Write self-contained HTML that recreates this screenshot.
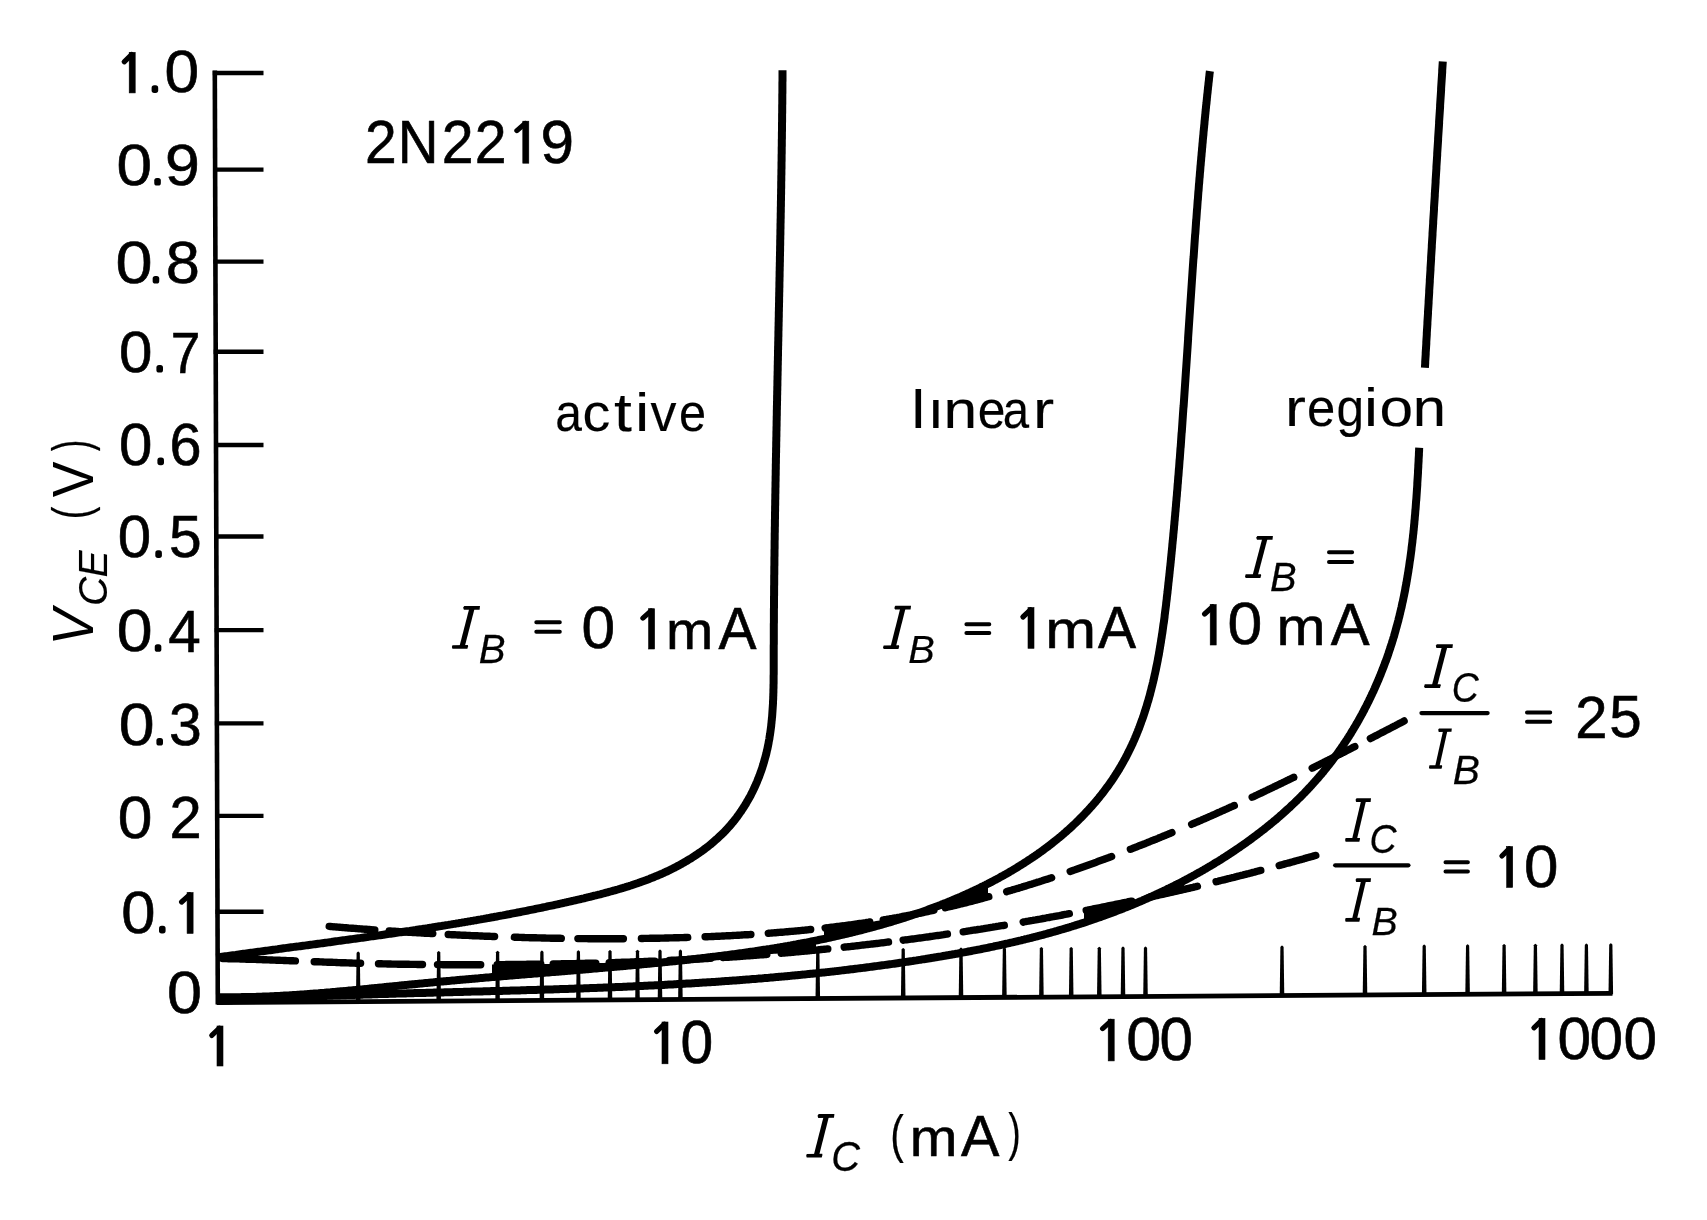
<!DOCTYPE html><html><head><meta charset="utf-8"><style>html,body{margin:0;padding:0;background:#fff;}svg{display:block;}</style></head><body>
<svg width="1707" height="1220" viewBox="0 0 1707 1220" style="filter:grayscale(1)">
<rect width="1707" height="1220" fill="#fff"/>
<g stroke="#000" fill="none" stroke-linecap="butt">
<path d="M214.8,70.5 L217.8,1004.5" stroke-width="4.6"/>
<path d="M217.8,1002.6 L1612.5,993.3" stroke-width="4.8"/>
<path d="M212.8,73.0 L263.5,73.0" stroke-width="4.4"/>
<path d="M213.1,169.6 L263.5,169.6" stroke-width="4.4"/>
<path d="M213.4,261.6 L263.5,261.6" stroke-width="4.4"/>
<path d="M213.7,351.7 L263.5,351.7" stroke-width="4.4"/>
<path d="M214.0,445.0 L263.5,445.0" stroke-width="4.4"/>
<path d="M214.3,536.5 L263.5,536.5" stroke-width="4.4"/>
<path d="M214.6,630.1 L263.5,630.1" stroke-width="4.4"/>
<path d="M214.9,723.4 L263.5,723.4" stroke-width="4.4"/>
<path d="M215.2,815.9 L263.5,815.9" stroke-width="4.4"/>
<path d="M215.5,911.7 L263.5,911.7" stroke-width="4.4"/>
</g><g fill="#000" stroke="none">
<path d="M355.9,1002.6 L356.6,953.1 Q358.2,950.1 359.8,953.1 L360.5,1002.6 Z"/>
<path d="M436.4,1002.1 L437.1,952.6 Q438.7,949.6 440.3,952.6 L441.0,1002.1 Z"/>
<path d="M495.3,1001.7 L496.0,952.2 Q497.6,949.2 499.2,952.2 L499.9,1001.7 Z"/>
<path d="M539.6,1001.4 L540.3,951.9 Q541.9,948.9 543.5,951.9 L544.2,1001.4 Z"/>
<path d="M576.1,1001.2 L576.8,951.7 Q578.4,948.7 580.0,951.7 L580.7,1001.2 Z"/>
<path d="M607.7,1001.0 L608.4,951.5 Q610.0,948.5 611.6,951.5 L612.3,1001.0 Z"/>
<path d="M635.2,1000.8 L635.9,951.3 Q637.5,948.3 639.1,951.3 L639.8,1000.8 Z"/>
<path d="M657.7,1000.6 L658.4,951.1 Q660.0,948.1 661.6,951.1 L662.3,1000.6 Z"/>
<path d="M678.1,1000.5 L678.8,951.0 Q680.4,948.0 682.0,951.0 L682.7,1000.5 Z"/>
<path d="M815.5,999.6 L816.2,950.1 Q817.8,947.1 819.4,950.1 L820.1,999.6 Z"/>
<path d="M900.9,999.0 L901.6,949.5 Q903.2,946.5 904.8,949.5 L905.5,999.0 Z"/>
<path d="M958.7,998.6 L959.4,949.1 Q961.0,946.1 962.6,949.1 L963.3,998.6 Z"/>
<path d="M1002.1,998.3 L1002.8,948.8 Q1004.4,945.8 1006.0,948.8 L1006.7,998.3 Z"/>
<path d="M1039.1,998.1 L1039.8,948.6 Q1041.4,945.6 1043.0,948.6 L1043.7,998.1 Z"/>
<path d="M1068.9,997.9 L1069.6,948.4 Q1071.2,945.4 1072.8,948.4 L1073.5,997.9 Z"/>
<path d="M1097.0,997.7 L1097.7,948.2 Q1099.3,945.2 1100.9,948.2 L1101.6,997.7 Z"/>
<path d="M1120.7,997.6 L1121.4,948.1 Q1123.0,945.1 1124.6,948.1 L1125.3,997.6 Z"/>
<path d="M1143.2,997.4 L1143.9,947.9 Q1145.5,944.9 1147.1,947.9 L1147.8,997.4 Z"/>
<path d="M1279.7,996.5 L1280.4,947.0 Q1282.0,944.0 1283.6,947.0 L1284.3,996.5 Z"/>
<path d="M1362.7,995.9 L1363.4,946.4 Q1365.0,943.4 1366.6,946.4 L1367.3,995.9 Z"/>
<path d="M1421.9,995.6 L1422.6,946.1 Q1424.2,943.1 1425.8,946.1 L1426.5,995.6 Z"/>
<path d="M1465.3,995.3 L1466.0,945.8 Q1467.6,942.8 1469.2,945.8 L1469.9,995.3 Z"/>
<path d="M1501.8,995.0 L1502.5,945.5 Q1504.1,942.5 1505.7,945.5 L1506.4,995.0 Z"/>
<path d="M1533.1,994.8 L1533.8,945.3 Q1535.4,942.3 1537.0,945.3 L1537.7,994.8 Z"/>
<path d="M1559.7,994.6 L1560.4,945.1 Q1562.0,942.1 1563.6,945.1 L1564.3,994.6 Z"/>
<path d="M1584.1,994.5 L1584.8,945.0 Q1586.4,942.0 1588.0,945.0 L1588.7,994.5 Z"/>
<path d="M1608.5,994.3 L1609.2,944.8 Q1610.8,941.8 1612.4,944.8 L1613.1,994.3 Z"/>
</g>
<g stroke="#000" fill="none" stroke-width="8.0" stroke-linecap="butt" stroke-linejoin="round">
<path d="M216.3,957.6 L217.8,957.4 L219.3,957.2 L220.8,957.0 L222.3,956.7 L223.8,956.5 L225.3,956.3 L226.8,956.1 L228.3,955.9 L229.8,955.7 L231.3,955.5 L232.9,955.3 L234.4,955.1 L235.9,954.9 L237.4,954.6 L238.9,954.4 L240.4,954.2 L241.9,954.0 L243.4,953.8 L244.9,953.6 L246.4,953.4 L247.9,953.2 L249.4,953.0 L250.9,952.8 L252.4,952.6 L253.8,952.4 L255.3,952.2 L256.8,952.0 L258.3,951.8 L259.8,951.6 L261.3,951.4 L262.8,951.2 L264.3,951.0 L265.8,950.8 L267.3,950.6 L268.8,950.4 L270.3,950.2 L271.8,950.0 L273.3,949.8 L274.8,949.6 L276.3,949.4 L277.8,949.2 L279.3,948.9 L280.8,948.7 L282.3,948.5 L283.7,948.3 L285.2,948.1 L286.7,947.9 L288.2,947.7 L289.7,947.5 L291.2,947.3 L292.7,947.1 L294.2,946.9 L295.7,946.7 L297.2,946.6 L298.7,946.4 L300.1,946.2 L301.6,946.0 L303.1,945.8 L304.6,945.6 L306.1,945.4 L307.6,945.2 L309.1,945.0 L310.6,944.8 L312.1,944.6 L313.5,944.4 L315.0,944.2 L316.5,944.0 L318.0,943.8 L319.5,943.6 L321.0,943.4 L322.5,943.2 L324.0,943.0 L325.4,942.8 L326.9,942.6 L328.4,942.4 L329.9,942.2 L331.4,942.0 L332.9,941.7 L334.3,941.5 L335.8,941.3 L337.3,941.1 L338.8,940.9 L340.3,940.7 L341.8,940.5 L343.3,940.3 L344.7,940.1 L346.2,939.9 L347.7,939.7 L349.2,939.5 L350.7,939.3 L352.2,939.1 L353.6,938.9 L355.1,938.7 L356.6,938.5 L358.1,938.3 L359.6,938.1 L361.0,937.9 L362.5,937.7 L364.0,937.5 L365.5,937.3 L367.0,937.1 L368.4,936.8 L369.9,936.6 L371.4,936.4 L372.9,936.2 L374.4,936.0 L375.9,935.8 L377.3,935.6 L378.8,935.4 L380.3,935.2 L381.8,935.0 L383.2,934.8 L384.7,934.5 L386.2,934.3 L387.7,934.1 L389.2,933.9 L390.6,933.7 L392.1,933.5 L393.6,933.3 L395.1,933.0 L396.6,932.8 L398.0,932.6 L399.5,932.4 L401.0,932.2 L402.5,932.0 L403.9,931.7 L405.4,931.5 L406.9,931.3 L408.4,931.1 L409.9,930.9 L411.3,930.6 L412.8,930.4 L414.3,930.2 L415.8,930.0 L417.2,929.7 L418.7,929.5 L420.2,929.3 L421.7,929.1 L423.1,928.8 L424.6,928.6 L426.1,928.4 L427.6,928.2 L429.1,927.9 L430.5,927.7 L432.0,927.5 L433.5,927.2 L435.0,927.0 L436.4,926.8 L437.9,926.5 L439.4,926.3 L440.9,926.1 L442.3,925.8 L443.8,925.6 L445.3,925.3 L446.8,925.1 L448.2,924.9 L449.7,924.6 L451.2,924.4 L452.7,924.1 L454.1,923.9 L455.6,923.7 L457.1,923.4 L458.6,923.2 L460.0,922.9 L461.5,922.7 L463.0,922.4 L464.5,922.2 L465.9,921.9 L467.4,921.7 L468.9,921.4 L470.4,921.2 L471.8,920.9 L473.3,920.7 L474.8,920.4 L476.3,920.2 L477.7,919.9 L479.2,919.6 L480.7,919.4 L482.2,919.1 L483.6,918.9 L485.1,918.6 L486.6,918.3 L488.1,918.1 L489.5,917.8 L491.0,917.5 L492.5,917.3 L494.0,917.0 L495.4,916.7 L496.9,916.5 L498.4,916.2 L499.8,915.9 L501.3,915.6 L502.8,915.4 L504.3,915.1 L505.7,914.8 L507.2,914.5 L508.7,914.3 L510.2,914.0 L511.6,913.7 L513.1,913.4 L514.6,913.1 L516.1,912.8 L517.5,912.5 L519.0,912.3 L520.5,912.0 L522.0,911.7 L523.4,911.4 L524.9,911.1 L526.4,910.8 L527.9,910.5 L529.3,910.2 L530.8,909.9 L532.3,909.6 L533.8,909.3 L535.2,909.0 L536.7,908.7 L538.2,908.4 L539.7,908.1 L541.1,907.8 L542.6,907.5 L544.1,907.2 L545.6,906.9 L547.0,906.5 L548.5,906.2 L550.0,905.9 L551.5,905.6 L553.0,905.3 L554.4,905.0 L555.9,904.6 L557.4,904.3 L558.9,904.0 L560.3,903.7 L561.8,903.3 L563.3,903.0 L564.8,902.7 L566.2,902.3 L567.7,902.0 L569.2,901.7 L570.7,901.3 L572.1,901.0 L573.6,900.7 L575.1,900.3 L576.6,900.0 L578.1,899.6 L579.5,899.3 L581.0,899.0 L582.5,898.6 L584.0,898.3 L585.4,897.9 L586.9,897.5 L588.4,897.2 L589.9,896.8 L591.4,896.5 L592.8,896.1 L594.3,895.7 L595.8,895.4 L597.3,895.0 L598.7,894.6 L600.2,894.3 L601.7,893.9 L603.2,893.5 L604.6,893.1 L606.1,892.7 L607.6,892.3 L609.0,891.9 L610.5,891.5 L612.0,891.1 L613.4,890.7 L614.9,890.3 L616.3,889.9 L617.8,889.5 L619.3,889.0 L620.7,888.6 L622.2,888.2 L623.6,887.7 L625.1,887.3 L626.5,886.8 L628.0,886.4 L629.4,885.9 L630.9,885.5 L632.3,885.0 L633.7,884.5 L635.2,884.0 L636.6,883.5 L638.1,883.1 L639.5,882.6 L640.9,882.0 L642.3,881.5 L643.8,881.0 L645.2,880.5 L646.6,880.0 L648.0,879.4 L649.4,878.9 L650.8,878.3 L652.2,877.8 L653.6,877.2 L655.0,876.6 L656.4,876.1 L657.8,875.5 L659.2,874.9 L660.6,874.3 L662.0,873.7 L663.3,873.1 L664.7,872.4 L666.1,871.8 L667.5,871.2 L668.8,870.5 L670.2,869.8 L671.5,869.2 L672.9,868.5 L674.2,867.8 L675.6,867.1 L676.9,866.4 L678.3,865.7 L679.6,865.0 L680.9,864.3 L682.2,863.5 L683.5,862.8 L684.8,862.0 L686.1,861.3 L687.4,860.5 L688.7,859.7 L690.0,858.9 L691.3,858.2 L692.6,857.3 L693.8,856.5 L695.1,855.7 L696.3,854.9 L697.6,854.0 L698.8,853.2 L700.1,852.3 L701.3,851.5 L702.5,850.6 L703.7,849.7 L704.9,848.8 L706.1,847.9 L707.3,847.0 L708.5,846.1 L709.6,845.1 L710.8,844.2 L711.9,843.2 L713.1,842.3 L714.2,841.3 L715.3,840.3 L716.4,839.3 L717.5,838.4 L718.6,837.3 L719.7,836.3 L720.8,835.3 L721.9,834.3 L722.9,833.2 L724.0,832.2 L725.0,831.1 L726.0,830.1 L727.0,829.0 L728.0,827.9 L729.0,826.8 L730.0,825.7 L730.9,824.6 L731.9,823.4 L732.8,822.3 L733.8,821.2 L734.7,820.0 L735.6,818.8 L736.5,817.7 L737.4,816.5 L738.2,815.3 L739.1,814.1 L739.9,812.9 L740.8,811.7 L741.6,810.5 L742.4,809.2 L743.2,808.0 L744.0,806.8 L744.8,805.5 L745.6,804.3 L746.3,803.0 L747.1,801.7 L747.8,800.4 L748.5,799.2 L749.3,797.9 L750.0,796.6 L750.7,795.3 L751.3,794.0 L752.0,792.6 L752.7,791.3 L753.3,790.0 L754.0,788.6 L754.6,787.3 L755.2,786.0 L755.8,784.6 L756.4,783.2 L757.0,781.9 L757.5,780.5 L758.1,779.1 L758.6,777.8 L759.2,776.4 L759.7,775.0 L760.2,773.6 L760.7,772.2 L761.2,770.8 L761.7,769.4 L762.2,768.0 L762.6,766.6 L763.1,765.1 L763.5,763.7 L763.9,762.3 L764.3,760.9 L764.7,759.4 L765.1,758.0 L765.5,756.6 L765.9,755.1 L766.3,753.7 L766.6,752.2 L766.9,750.8 L767.3,749.3 L767.6,747.9 L767.9,746.4 L768.2,744.9 L768.5,743.5 L768.7,742.0 L769.0,740.5 L769.3,739.1 L769.5,737.6 L769.7,736.1 L770.0,734.6 L770.2,733.2 L770.4,731.7 L770.6,730.2 L770.8,728.7 L771.0,727.2 L771.2,725.7 L771.3,724.2 L771.5,722.7 L771.6,721.3 L771.8,719.8 L771.9,718.3 L772.1,716.8 L772.2,715.3 L772.3,713.8 L772.4,712.3 L772.5,710.7 L772.6,709.2 L772.7,707.7 L772.8,706.2 L772.9,704.7 L773.0,703.2 L773.0,701.7 L773.1,700.2 L773.2,698.7 L773.2,697.1 L773.3,695.6 L773.3,694.1 L773.4,692.6 L773.4,691.1 L773.4,689.6 L773.5,688.0 L773.5,686.5 L773.5,685.0 L773.6,683.5 L773.6,681.9 L773.6,680.4 L773.6,678.9 L773.6,677.4 L773.6,675.8 L773.7,674.3 L773.7,672.8 L773.7,671.3 L773.7,669.8 L773.7,668.2 L773.7,666.7 L773.7,665.2 L773.7,663.7 L773.7,662.1 L773.7,660.6 L773.7,659.1 L773.7,657.6 L773.7,656.0 L773.7,654.5 L773.7,653.0 L773.7,651.5 L773.7,649.9 L773.7,648.4 L773.7,646.9 L773.7,645.4 L773.8,643.9 L773.8,642.3 L773.8,640.8 L773.8,639.3 L773.8,637.8 L773.8,636.3 L773.8,634.7 L773.8,633.2 L773.8,631.7 L773.8,630.2 L773.8,628.7 L773.8,627.1 L773.8,625.6 L773.8,624.1 L773.9,622.6 L773.9,621.1 L773.9,619.6 L773.9,618.1 L773.9,616.5 L773.9,615.0 L773.9,613.5 L773.9,612.0 L773.9,610.5 L773.9,609.0 L774.0,607.4 L774.0,605.9 L774.0,604.4 L774.0,602.9 L774.0,601.4 L774.0,599.9 L774.0,598.4 L774.0,596.9 L774.1,595.3 L774.1,593.8 L774.1,592.3 L774.1,590.8 L774.1,589.3 L774.1,587.8 L774.1,586.3 L774.2,584.8 L774.2,583.3 L774.2,581.8 L774.2,580.2 L774.2,578.7 L774.2,577.2 L774.2,575.7 L774.3,574.2 L774.3,572.7 L774.3,571.2 L774.3,569.7 L774.3,568.2 L774.3,566.7 L774.4,565.2 L774.4,563.7 L774.4,562.1 L774.4,560.6 L774.4,559.1 L774.4,557.6 L774.5,556.1 L774.5,554.6 L774.5,553.1 L774.5,551.6 L774.5,550.1 L774.6,548.6 L774.6,547.1 L774.6,545.6 L774.6,544.1 L774.6,542.6 L774.6,541.1 L774.7,539.6 L774.7,538.1 L774.7,536.6 L774.7,535.1 L774.7,533.6 L774.8,532.1 L774.8,530.6 L774.8,529.1 L774.8,527.6 L774.9,526.1 L774.9,524.5 L774.9,523.0 L774.9,521.5 L774.9,520.0 L775.0,518.5 L775.0,517.0 L775.0,515.5 L775.0,514.0 L775.0,512.5 L775.1,511.0 L775.1,509.5 L775.1,508.0 L775.1,506.5 L775.2,505.0 L775.2,503.5 L775.2,502.0 L775.2,500.5 L775.3,499.0 L775.3,497.5 L775.3,496.0 L775.3,494.6 L775.4,493.1 L775.4,491.6 L775.4,490.1 L775.4,488.6 L775.5,487.1 L775.5,485.6 L775.5,484.1 L775.5,482.6 L775.6,481.1 L775.6,479.6 L775.6,478.1 L775.6,476.6 L775.7,475.1 L775.7,473.6 L775.7,472.1 L775.7,470.6 L775.8,469.1 L775.8,467.6 L775.8,466.1 L775.8,464.6 L775.9,463.1 L775.9,461.6 L775.9,460.1 L775.9,458.6 L776.0,457.1 L776.0,455.6 L776.0,454.1 L776.1,452.6 L776.1,451.2 L776.1,449.7 L776.1,448.2 L776.2,446.7 L776.2,445.2 L776.2,443.7 L776.2,442.2 L776.3,440.7 L776.3,439.2 L776.3,437.7 L776.4,436.2 L776.4,434.7 L776.4,433.2 L776.4,431.7 L776.5,430.2 L776.5,428.7 L776.5,427.2 L776.6,425.8 L776.6,424.3 L776.6,422.8 L776.6,421.3 L776.7,419.8 L776.7,418.3 L776.7,416.8 L776.8,415.3 L776.8,413.8 L776.8,412.3 L776.8,410.8 L776.9,409.3 L776.9,407.8 L776.9,406.3 L777.0,404.9 L777.0,403.4 L777.0,401.9 L777.1,400.4 L777.1,398.9 L777.1,397.4 L777.1,395.9 L777.2,394.4 L777.2,392.9 L777.2,391.4 L777.3,389.9 L777.3,388.4 L777.3,386.9 L777.4,385.5 L777.4,384.0 L777.4,382.5 L777.4,381.0 L777.5,379.5 L777.5,378.0 L777.5,376.5 L777.6,375.0 L777.6,373.5 L777.6,372.0 L777.7,370.5 L777.7,369.0 L777.7,367.6 L777.7,366.1 L777.8,364.6 L777.8,363.1 L777.8,361.6 L777.9,360.1 L777.9,358.6 L777.9,357.1 L778.0,355.6 L778.0,354.1 L778.0,352.6 L778.0,351.1 L778.1,349.6 L778.1,348.2 L778.1,346.7 L778.2,345.2 L778.2,343.7 L778.2,342.2 L778.3,340.7 L778.3,339.2 L778.3,337.7 L778.4,336.2 L778.4,334.7 L778.4,333.2 L778.4,331.7 L778.5,330.3 L778.5,328.8 L778.5,327.3 L778.6,325.8 L778.6,324.3 L778.6,322.8 L778.7,321.3 L778.7,319.8 L778.7,318.3 L778.8,316.8 L778.8,315.3 L778.8,313.8 L778.8,312.3 L778.9,310.9 L778.9,309.4 L778.9,307.9 L779.0,306.4 L779.0,304.9 L779.0,303.4 L779.1,301.9 L779.1,300.4 L779.1,298.9 L779.1,297.4 L779.2,295.9 L779.2,294.4 L779.2,292.9 L779.3,291.4 L779.3,290.0 L779.3,288.5 L779.4,287.0 L779.4,285.5 L779.4,284.0 L779.4,282.5 L779.5,281.0 L779.5,279.5 L779.5,278.0 L779.6,276.5 L779.6,275.0 L779.6,273.5 L779.6,272.0 L779.7,270.5 L779.7,269.0 L779.7,267.5 L779.8,266.0 L779.8,264.5 L779.8,263.1 L779.9,261.6 L779.9,260.1 L779.9,258.6 L779.9,257.1 L780.0,255.6 L780.0,254.1 L780.0,252.6 L780.1,251.1 L780.1,249.6 L780.1,248.1 L780.1,246.6 L780.2,245.1 L780.2,243.6 L780.2,242.1 L780.2,240.6 L780.3,239.1 L780.3,237.6 L780.3,236.1 L780.4,234.6 L780.4,233.1 L780.4,231.6 L780.4,230.1 L780.5,228.6 L780.5,227.1 L780.5,225.6 L780.5,224.1 L780.6,222.6 L780.6,221.1 L780.6,219.6 L780.7,218.1 L780.7,216.6 L780.7,215.1 L780.7,213.6 L780.8,212.1 L780.8,210.6 L780.8,209.1 L780.8,207.6 L780.9,206.1 L780.9,204.6 L780.9,203.1 L780.9,201.6 L781.0,200.1 L781.0,198.6 L781.0,197.1 L781.0,195.6 L781.1,194.1 L781.1,192.6 L781.1,191.1 L781.1,189.6 L781.2,188.1 L781.2,186.6 L781.2,185.1 L781.2,183.6 L781.2,182.1 L781.3,180.6 L781.3,179.1 L781.3,177.6 L781.3,176.1 L781.4,174.6 L781.4,173.1 L781.4,171.6 L781.4,170.1 L781.5,168.6 L781.5,167.1 L781.5,165.6 L781.5,164.1 L781.5,162.6 L781.6,161.1 L781.6,159.6 L781.6,158.0 L781.6,156.5 L781.6,155.0 L781.7,153.5 L781.7,152.0 L781.7,150.5 L781.7,149.0 L781.7,147.5 L781.8,146.0 L781.8,144.5 L781.8,143.0 L781.8,141.5 L781.8,140.0 L781.9,138.4 L781.9,136.9 L781.9,135.4 L781.9,133.9 L781.9,132.4 L782.0,130.9 L782.0,129.4 L782.0,127.9 L782.0,126.4 L782.0,124.8 L782.0,123.3 L782.1,121.8 L782.1,120.3 L782.1,118.8 L782.1,117.3 L782.1,115.8 L782.1,114.3 L782.2,112.7 L782.2,111.2 L782.2,109.7 L782.2,108.2 L782.2,106.7 L782.2,105.2 L782.3,103.7 L782.3,102.1 L782.3,100.6 L782.3,99.1 L782.3,97.6 L782.3,96.1 L782.3,94.6 L782.4,93.0 L782.4,91.5 L782.4,90.0 L782.4,88.5 L782.4,87.0 L782.4,85.5 L782.4,83.9 L782.4,82.4 L782.5,80.9 L782.5,79.4 L782.5,77.9 L782.5,76.3 L782.5,74.8 L782.5,73.3 L782.5,71.8 L782.5,70.3"/>
<path d="M216.5,997.1 L218.0,997.1 L219.5,997.2 L221.0,997.2 L222.5,997.2 L224.0,997.2 L225.5,997.2 L227.0,997.2 L228.5,997.2 L230.0,997.2 L231.5,997.2 L233.0,997.2 L234.5,997.2 L236.0,997.2 L237.5,997.2 L239.0,997.2 L240.5,997.2 L242.0,997.1 L243.5,997.1 L245.0,997.1 L246.5,997.1 L248.0,997.0 L249.5,997.0 L251.0,997.0 L252.5,996.9 L254.0,996.9 L255.6,996.9 L257.1,996.8 L258.6,996.8 L260.1,996.7 L261.6,996.7 L263.1,996.6 L264.6,996.5 L266.1,996.5 L267.6,996.4 L269.1,996.4 L270.6,996.3 L272.1,996.2 L273.6,996.2 L275.1,996.1 L276.6,996.0 L278.1,995.9 L279.6,995.9 L281.1,995.8 L282.6,995.7 L284.1,995.6 L285.6,995.5 L287.1,995.5 L288.6,995.4 L290.1,995.3 L291.6,995.2 L293.1,995.1 L294.6,995.0 L296.1,994.9 L297.6,994.8 L299.1,994.7 L300.6,994.6 L302.1,994.5 L303.6,994.4 L305.0,994.3 L306.5,994.2 L308.0,994.1 L309.5,994.0 L311.0,993.8 L312.5,993.7 L314.0,993.6 L315.5,993.5 L317.0,993.4 L318.5,993.3 L320.0,993.1 L321.5,993.0 L323.0,992.9 L324.5,992.8 L326.0,992.6 L327.5,992.5 L329.0,992.4 L330.5,992.3 L332.0,992.1 L333.5,992.0 L335.0,991.9 L336.5,991.7 L338.0,991.6 L339.5,991.5 L341.0,991.3 L342.5,991.2 L344.0,991.1 L345.5,990.9 L347.0,990.8 L348.5,990.6 L350.0,990.5 L351.5,990.4 L353.0,990.2 L354.5,990.1 L356.0,989.9 L357.5,989.8 L359.0,989.7 L360.5,989.5 L362.0,989.4 L363.5,989.2 L365.0,989.1 L366.5,988.9 L367.9,988.8 L369.4,988.6 L370.9,988.5 L372.4,988.3 L373.9,988.2 L375.4,988.0 L376.9,987.9 L378.4,987.7 L379.9,987.6 L381.4,987.4 L382.9,987.3 L384.4,987.1 L385.9,987.0 L387.4,986.8 L388.9,986.7 L390.4,986.5 L391.9,986.4 L393.4,986.2 L394.9,986.1 L396.4,985.9 L397.9,985.8 L399.4,985.6 L400.9,985.5 L402.4,985.3 L403.9,985.2 L405.3,985.0 L406.8,984.9 L408.3,984.7 L409.8,984.6 L411.3,984.5 L412.8,984.3 L414.3,984.2 L415.8,984.0 L417.3,983.9 L418.8,983.7 L420.3,983.6 L421.8,983.4 L423.3,983.3 L424.8,983.1 L426.3,983.0 L427.8,982.9 L429.3,982.7 L430.8,982.6 L432.3,982.4 L433.7,982.3 L435.2,982.1 L436.7,982.0 L438.2,981.9 L439.7,981.7 L441.2,981.6 L442.7,981.5 L444.2,981.3 L445.7,981.2 L447.2,981.0 L448.7,980.9 L450.2,980.8 L451.7,980.6 L453.2,980.5 L454.7,980.4 L456.2,980.2 L457.7,980.1 L459.2,980.0 L460.6,979.8 L462.1,979.7 L463.6,979.6 L465.1,979.4 L466.6,979.3 L468.1,979.2 L469.6,979.0 L471.1,978.9 L472.6,978.8 L474.1,978.7 L475.6,978.5 L477.1,978.4 L478.6,978.3 L480.1,978.1 L481.6,978.0 L483.1,977.9 L484.5,977.7 L486.0,977.6 L487.5,977.5 L489.0,977.4 L490.5,977.2 L492.0,977.1 L493.5,977.0 L495.0,976.9 L496.5,976.7 L498.0,976.6 L499.5,976.5 L501.0,976.4 L502.5,976.2 L504.0,976.1 L505.5,976.0 L507.0,975.9 L508.4,975.7 L509.9,975.6 L511.4,975.5 L512.9,975.4 L514.4,975.2 L515.9,975.1 L517.4,975.0 L518.9,974.9 L520.4,974.7 L521.9,974.6 L523.4,974.5 L524.9,974.4 L526.4,974.2 L527.9,974.1 L529.4,974.0 L530.9,973.9 L532.4,973.8 L533.8,973.6 L535.3,973.5 L536.8,973.4 L538.3,973.3 L539.8,973.1 L541.3,973.0 L542.8,972.9 L544.3,972.8 L545.8,972.6 L547.3,972.5 L548.8,972.4 L550.3,972.3 L551.8,972.1 L553.3,972.0 L554.8,971.9 L556.3,971.8 L557.8,971.7 L559.3,971.5 L560.7,971.4 L562.2,971.3 L563.7,971.2 L565.2,971.0 L566.7,970.9 L568.2,970.8 L569.7,970.7 L571.2,970.5 L572.7,970.4 L574.2,970.3 L575.7,970.2 L577.2,970.0 L578.7,969.9 L580.2,969.8 L581.7,969.7 L583.2,969.5 L584.7,969.4 L586.2,969.3 L587.7,969.2 L589.2,969.0 L590.7,968.9 L592.1,968.8 L593.6,968.6 L595.1,968.5 L596.6,968.4 L598.1,968.3 L599.6,968.1 L601.1,968.0 L602.6,967.9 L604.1,967.7 L605.6,967.6 L607.1,967.5 L608.6,967.4 L610.1,967.2 L611.6,967.1 L613.1,967.0 L614.6,966.8 L616.1,966.7 L617.6,966.6 L619.1,966.4 L620.6,966.3 L622.1,966.2 L623.6,966.0 L625.1,965.9 L626.6,965.8 L628.1,965.6 L629.6,965.5 L631.1,965.4 L632.6,965.2 L634.1,965.1 L635.6,964.9 L637.1,964.8 L638.6,964.7 L640.1,964.5 L641.5,964.4 L643.0,964.2 L644.5,964.1 L646.0,964.0 L647.5,963.8 L649.0,963.7 L650.5,963.5 L652.0,963.4 L653.5,963.2 L655.0,963.1 L656.5,963.0 L658.0,962.8 L659.5,962.7 L661.0,962.5 L662.5,962.4 L664.0,962.2 L665.5,962.1 L667.0,961.9 L668.5,961.8 L670.0,961.6 L671.5,961.5 L673.0,961.3 L674.5,961.2 L676.0,961.0 L677.5,960.8 L679.0,960.7 L680.5,960.5 L682.0,960.4 L683.5,960.2 L685.0,960.0 L686.5,959.9 L688.0,959.7 L689.5,959.6 L691.0,959.4 L692.5,959.2 L694.0,959.1 L695.5,958.9 L696.9,958.7 L698.4,958.5 L699.9,958.4 L701.4,958.2 L702.9,958.0 L704.4,957.9 L705.9,957.7 L707.4,957.5 L708.9,957.3 L710.4,957.1 L711.9,957.0 L713.4,956.8 L714.9,956.6 L716.4,956.4 L717.9,956.2 L719.4,956.0 L720.9,955.9 L722.3,955.7 L723.8,955.5 L725.3,955.3 L726.8,955.1 L728.3,954.9 L729.8,954.7 L731.3,954.5 L732.8,954.3 L734.3,954.1 L735.8,953.9 L737.3,953.7 L738.7,953.5 L740.2,953.3 L741.7,953.1 L743.2,952.9 L744.7,952.7 L746.2,952.5 L747.7,952.3 L749.2,952.0 L750.7,951.8 L752.1,951.6 L753.6,951.4 L755.1,951.2 L756.6,950.9 L758.1,950.7 L759.6,950.5 L761.1,950.3 L762.5,950.0 L764.0,949.8 L765.5,949.6 L767.0,949.3 L768.5,949.1 L770.0,948.9 L771.4,948.6 L772.9,948.4 L774.4,948.2 L775.9,947.9 L777.4,947.7 L778.8,947.4 L780.3,947.2 L781.8,946.9 L783.3,946.7 L784.8,946.4 L786.2,946.1 L787.7,945.9 L789.2,945.6 L790.7,945.4 L792.1,945.1 L793.6,944.8 L795.1,944.6 L796.6,944.3 L798.0,944.0 L799.5,943.8 L801.0,943.5 L802.5,943.2 L803.9,942.9 L805.4,942.6 L806.9,942.4 L808.4,942.1 L809.8,941.8 L811.3,941.5 L812.8,941.2 L814.2,940.9 L815.7,940.6 L817.2,940.3 L818.6,940.0 L820.1,939.7 L821.6,939.4 L823.0,939.1 L824.5,938.8 L826.0,938.5 L827.4,938.1 L828.9,937.8 L830.4,937.5 L831.8,937.2 L833.3,936.9 L834.7,936.5 L836.2,936.2 L837.7,935.9 L839.1,935.5 L840.6,935.2 L842.0,934.9 L843.5,934.5 L844.9,934.2 L846.4,933.8 L847.9,933.5 L849.3,933.1 L850.8,932.8 L852.2,932.4 L853.7,932.1 L855.1,931.7 L856.6,931.4 L858.0,931.0 L859.5,930.6 L860.9,930.3 L862.4,929.9 L863.8,929.5 L865.3,929.1 L866.7,928.7 L868.2,928.4 L869.6,928.0 L871.0,927.6 L872.5,927.2 L873.9,926.8 L875.4,926.4 L876.8,926.0 L878.3,925.6 L879.7,925.2 L881.1,924.8 L882.6,924.4 L884.0,924.0 L885.5,923.6 L886.9,923.1 L888.3,922.7 L889.8,922.3 L891.2,921.9 L892.6,921.4 L894.1,921.0 L895.5,920.6 L896.9,920.1 L898.3,919.7 L899.8,919.2 L901.2,918.8 L902.6,918.3 L904.1,917.9 L905.5,917.4 L906.9,917.0 L908.3,916.5 L909.7,916.0 L911.2,915.6 L912.6,915.1 L914.0,914.6 L915.4,914.1 L916.8,913.6 L918.3,913.2 L919.7,912.7 L921.1,912.2 L922.5,911.7 L923.9,911.2 L925.3,910.7 L926.7,910.2 L928.1,909.6 L929.5,909.1 L930.9,908.6 L932.3,908.1 L933.7,907.6 L935.1,907.0 L936.5,906.5 L937.9,906.0 L939.3,905.4 L940.7,904.9 L942.1,904.3 L943.5,903.8 L944.9,903.2 L946.3,902.7 L947.7,902.1 L949.1,901.5 L950.5,901.0 L951.9,900.4 L953.3,899.8 L954.6,899.2 L956.0,898.6 L957.4,898.1 L958.8,897.5 L960.2,896.9 L961.5,896.3 L962.9,895.7 L964.3,895.0 L965.7,894.4 L967.0,893.8 L968.4,893.2 L969.8,892.6 L971.1,891.9 L972.5,891.3 L973.8,890.7 L975.2,890.0 L976.6,889.4 L977.9,888.7 L979.3,888.1 L980.6,887.4 L982.0,886.7 L983.3,886.1 L984.7,885.4 L986.0,884.7 L987.4,884.0 L988.7,883.3 L990.1,882.6 L991.4,882.0 L992.8,881.2 L994.1,880.5 L995.4,879.8 L996.8,879.1 L998.1,878.4 L999.4,877.7 L1000.7,876.9 L1002.1,876.2 L1003.4,875.5 L1004.7,874.7 L1006.0,874.0 L1007.4,873.2 L1008.7,872.5 L1010.0,871.7 L1011.3,870.9 L1012.6,870.2 L1013.9,869.4 L1015.2,868.6 L1016.5,867.8 L1017.8,867.0 L1019.1,866.2 L1020.4,865.4 L1021.6,864.6 L1022.9,863.8 L1024.2,863.0 L1025.5,862.2 L1026.8,861.4 L1028.0,860.5 L1029.3,859.7 L1030.6,858.9 L1031.8,858.0 L1033.1,857.2 L1034.3,856.3 L1035.6,855.5 L1036.8,854.6 L1038.1,853.7 L1039.3,852.8 L1040.5,852.0 L1041.8,851.1 L1043.0,850.2 L1044.2,849.3 L1045.4,848.4 L1046.6,847.5 L1047.9,846.6 L1049.1,845.6 L1050.3,844.7 L1051.5,843.8 L1052.6,842.9 L1053.8,841.9 L1055.0,841.0 L1056.2,840.0 L1057.4,839.1 L1058.5,838.1 L1059.7,837.2 L1060.9,836.2 L1062.0,835.2 L1063.2,834.2 L1064.3,833.2 L1065.5,832.2 L1066.6,831.2 L1067.7,830.2 L1068.9,829.2 L1070.0,828.2 L1071.1,827.2 L1072.2,826.2 L1073.3,825.1 L1074.4,824.1 L1075.5,823.1 L1076.6,822.0 L1077.7,821.0 L1078.8,819.9 L1079.8,818.8 L1080.9,817.8 L1082.0,816.7 L1083.0,815.6 L1084.1,814.5 L1085.1,813.4 L1086.1,812.3 L1087.2,811.2 L1088.2,810.1 L1089.2,809.0 L1090.2,807.9 L1091.2,806.8 L1092.2,805.7 L1093.2,804.5 L1094.2,803.4 L1095.2,802.3 L1096.1,801.1 L1097.1,800.0 L1098.1,798.8 L1099.0,797.7 L1099.9,796.5 L1100.9,795.3 L1101.8,794.2 L1102.7,793.0 L1103.6,791.8 L1104.5,790.6 L1105.4,789.4 L1106.3,788.2 L1107.2,787.0 L1108.1,785.8 L1109.0,784.6 L1109.8,783.4 L1110.7,782.2 L1111.5,781.0 L1112.4,779.7 L1113.2,778.5 L1114.0,777.3 L1114.8,776.0 L1115.6,774.8 L1116.4,773.5 L1117.2,772.3 L1118.0,771.0 L1118.8,769.8 L1119.5,768.5 L1120.3,767.2 L1121.0,766.0 L1121.8,764.7 L1122.5,763.4 L1123.2,762.1 L1123.9,760.8 L1124.6,759.6 L1125.3,758.3 L1126.0,757.0 L1126.7,755.7 L1127.4,754.3 L1128.0,753.0 L1128.7,751.7 L1129.3,750.4 L1130.0,749.1 L1130.6,747.8 L1131.3,746.4 L1131.9,745.1 L1132.5,743.8 L1133.1,742.4 L1133.7,741.1 L1134.3,739.7 L1134.9,738.4 L1135.4,737.0 L1136.0,735.7 L1136.6,734.3 L1137.1,732.9 L1137.7,731.6 L1138.2,730.2 L1138.8,728.8 L1139.3,727.5 L1139.8,726.1 L1140.3,724.7 L1140.8,723.3 L1141.3,721.9 L1141.8,720.5 L1142.3,719.2 L1142.8,717.8 L1143.3,716.4 L1143.8,715.0 L1144.2,713.6 L1144.7,712.2 L1145.1,710.7 L1145.6,709.3 L1146.0,707.9 L1146.5,706.5 L1146.9,705.1 L1147.3,703.7 L1147.7,702.2 L1148.2,700.8 L1148.6,699.4 L1149.0,697.9 L1149.4,696.5 L1149.8,695.1 L1150.2,693.6 L1150.5,692.2 L1150.9,690.8 L1151.3,689.3 L1151.6,687.9 L1152.0,686.4 L1152.4,685.0 L1152.7,683.5 L1153.1,682.1 L1153.4,680.6 L1153.8,679.1 L1154.1,677.7 L1154.4,676.2 L1154.7,674.8 L1155.1,673.3 L1155.4,671.8 L1155.7,670.4 L1156.0,668.9 L1156.3,667.4 L1156.6,665.9 L1156.9,664.5 L1157.2,663.0 L1157.5,661.5 L1157.8,660.0 L1158.0,658.5 L1158.3,657.1 L1158.6,655.6 L1158.9,654.1 L1159.1,652.6 L1159.4,651.1 L1159.6,649.6 L1159.9,648.1 L1160.1,646.6 L1160.4,645.1 L1160.6,643.6 L1160.9,642.1 L1161.1,640.6 L1161.3,639.1 L1161.6,637.6 L1161.8,636.1 L1162.0,634.6 L1162.3,633.1 L1162.5,631.6 L1162.7,630.1 L1162.9,628.6 L1163.1,627.1 L1163.3,625.6 L1163.5,624.1 L1163.8,622.6 L1164.0,621.1 L1164.2,619.6 L1164.4,618.1 L1164.6,616.6 L1164.7,615.1 L1164.9,613.6 L1165.1,612.0 L1165.3,610.5 L1165.5,609.0 L1165.7,607.5 L1165.9,606.0 L1166.1,604.5 L1166.2,603.0 L1166.4,601.5 L1166.6,599.9 L1166.8,598.4 L1166.9,596.9 L1167.1,595.4 L1167.3,593.9 L1167.5,592.4 L1167.6,590.9 L1167.8,589.4 L1168.0,587.8 L1168.1,586.3 L1168.3,584.8 L1168.4,583.3 L1168.6,581.8 L1168.8,580.3 L1168.9,578.8 L1169.1,577.3 L1169.3,575.8 L1169.4,574.2 L1169.6,572.7 L1169.7,571.2 L1169.9,569.7 L1170.0,568.2 L1170.2,566.7 L1170.4,565.2 L1170.5,563.7 L1170.7,562.2 L1170.8,560.7 L1171.0,559.2 L1171.1,557.6 L1171.3,556.1 L1171.4,554.6 L1171.6,553.1 L1171.7,551.6 L1171.9,550.1 L1172.0,548.6 L1172.2,547.1 L1172.3,545.6 L1172.4,544.1 L1172.6,542.6 L1172.7,541.1 L1172.9,539.6 L1173.0,538.1 L1173.2,536.6 L1173.3,535.1 L1173.4,533.6 L1173.6,532.1 L1173.7,530.6 L1173.9,529.1 L1174.0,527.5 L1174.1,526.0 L1174.3,524.5 L1174.4,523.0 L1174.5,521.5 L1174.7,520.0 L1174.8,518.5 L1174.9,517.0 L1175.1,515.5 L1175.2,514.0 L1175.3,512.5 L1175.5,511.0 L1175.6,509.5 L1175.7,508.0 L1175.9,506.5 L1176.0,505.0 L1176.1,503.5 L1176.2,502.0 L1176.4,500.5 L1176.5,499.0 L1176.6,497.5 L1176.8,496.0 L1176.9,494.5 L1177.0,493.0 L1177.1,491.5 L1177.3,490.0 L1177.4,488.5 L1177.5,487.1 L1177.6,485.6 L1177.7,484.1 L1177.9,482.6 L1178.0,481.1 L1178.1,479.6 L1178.2,478.1 L1178.3,476.6 L1178.5,475.1 L1178.6,473.6 L1178.7,472.1 L1178.8,470.6 L1178.9,469.1 L1179.1,467.6 L1179.2,466.1 L1179.3,464.6 L1179.4,463.1 L1179.5,461.6 L1179.6,460.1 L1179.8,458.6 L1179.9,457.1 L1180.0,455.6 L1180.1,454.1 L1180.2,452.7 L1180.3,451.2 L1180.4,449.7 L1180.5,448.2 L1180.7,446.7 L1180.8,445.2 L1180.9,443.7 L1181.0,442.2 L1181.1,440.7 L1181.2,439.2 L1181.3,437.7 L1181.4,436.2 L1181.5,434.7 L1181.6,433.2 L1181.8,431.7 L1181.9,430.3 L1182.0,428.8 L1182.1,427.3 L1182.2,425.8 L1182.3,424.3 L1182.4,422.8 L1182.5,421.3 L1182.6,419.8 L1182.7,418.3 L1182.8,416.8 L1182.9,415.3 L1183.0,413.8 L1183.1,412.4 L1183.2,410.9 L1183.3,409.4 L1183.4,407.9 L1183.6,406.4 L1183.7,404.9 L1183.8,403.4 L1183.9,401.9 L1184.0,400.4 L1184.1,398.9 L1184.2,397.5 L1184.3,396.0 L1184.4,394.5 L1184.5,393.0 L1184.6,391.5 L1184.7,390.0 L1184.8,388.5 L1184.9,387.0 L1185.0,385.5 L1185.1,384.0 L1185.2,382.5 L1185.3,381.1 L1185.4,379.6 L1185.5,378.1 L1185.6,376.6 L1185.7,375.1 L1185.8,373.6 L1185.9,372.1 L1186.0,370.6 L1186.1,369.1 L1186.2,367.7 L1186.3,366.2 L1186.4,364.7 L1186.5,363.2 L1186.6,361.7 L1186.7,360.2 L1186.8,358.7 L1186.9,357.2 L1187.0,355.7 L1187.1,354.3 L1187.2,352.8 L1187.3,351.3 L1187.4,349.8 L1187.5,348.3 L1187.6,346.8 L1187.7,345.3 L1187.8,343.8 L1187.9,342.3 L1188.0,340.8 L1188.1,339.4 L1188.1,337.9 L1188.2,336.4 L1188.3,334.9 L1188.4,333.4 L1188.5,331.9 L1188.6,330.4 L1188.7,328.9 L1188.8,327.4 L1188.9,326.0 L1189.0,324.5 L1189.1,323.0 L1189.2,321.5 L1189.3,320.0 L1189.4,318.5 L1189.5,317.0 L1189.6,315.5 L1189.7,314.0 L1189.8,312.6 L1189.9,311.1 L1190.0,309.6 L1190.1,308.1 L1190.2,306.6 L1190.3,305.1 L1190.4,303.6 L1190.5,302.1 L1190.6,300.6 L1190.7,299.1 L1190.8,297.7 L1190.9,296.2 L1191.0,294.7 L1191.1,293.2 L1191.2,291.7 L1191.3,290.2 L1191.4,288.7 L1191.5,287.2 L1191.6,285.7 L1191.7,284.2 L1191.8,282.8 L1191.9,281.3 L1192.0,279.8 L1192.1,278.3 L1192.2,276.8 L1192.3,275.3 L1192.4,273.8 L1192.5,272.3 L1192.6,270.8 L1192.7,269.3 L1192.8,267.8 L1192.9,266.4 L1193.0,264.9 L1193.1,263.4 L1193.2,261.9 L1193.3,260.4 L1193.4,258.9 L1193.6,257.4 L1193.7,255.9 L1193.8,254.4 L1193.9,252.9 L1194.0,251.4 L1194.1,249.9 L1194.2,248.5 L1194.3,247.0 L1194.4,245.5 L1194.5,244.0 L1194.6,242.5 L1194.7,241.0 L1194.8,239.5 L1194.9,238.0 L1195.0,236.5 L1195.1,235.0 L1195.3,233.5 L1195.4,232.0 L1195.5,230.5 L1195.6,229.0 L1195.7,227.5 L1195.8,226.0 L1195.9,224.6 L1196.0,223.1 L1196.1,221.6 L1196.2,220.1 L1196.4,218.6 L1196.5,217.1 L1196.6,215.6 L1196.7,214.1 L1196.8,212.6 L1196.9,211.1 L1197.0,209.6 L1197.2,208.1 L1197.3,206.6 L1197.4,205.1 L1197.5,203.6 L1197.6,202.1 L1197.7,200.6 L1197.9,199.1 L1198.0,197.6 L1198.1,196.1 L1198.2,194.6 L1198.3,193.1 L1198.4,191.6 L1198.6,190.1 L1198.7,188.6 L1198.8,187.1 L1198.9,185.6 L1199.0,184.1 L1199.2,182.6 L1199.3,181.1 L1199.4,179.6 L1199.5,178.1 L1199.7,176.6 L1199.8,175.1 L1199.9,173.6 L1200.0,172.1 L1200.2,170.6 L1200.3,169.1 L1200.4,167.6 L1200.5,166.1 L1200.7,164.6 L1200.8,163.1 L1200.9,161.6 L1201.1,160.1 L1201.2,158.6 L1201.3,157.1 L1201.5,155.6 L1201.6,154.1 L1201.7,152.6 L1201.9,151.1 L1202.0,149.6 L1202.1,148.1 L1202.3,146.6 L1202.4,145.1 L1202.5,143.6 L1202.7,142.1 L1202.8,140.6 L1202.9,139.1 L1203.1,137.6 L1203.2,136.1 L1203.4,134.6 L1203.5,133.1 L1203.6,131.6 L1203.8,130.0 L1203.9,128.5 L1204.1,127.0 L1204.2,125.5 L1204.4,124.0 L1204.5,122.5 L1204.6,121.0 L1204.8,119.5 L1204.9,118.0 L1205.1,116.5 L1205.2,115.0 L1205.4,113.5 L1205.5,111.9 L1205.7,110.4 L1205.8,108.9 L1206.0,107.4 L1206.1,105.9 L1206.3,104.4 L1206.5,102.9 L1206.6,101.4 L1206.8,99.9 L1206.9,98.3 L1207.1,96.8 L1207.2,95.3 L1207.4,93.8 L1207.6,92.3 L1207.7,90.8 L1207.9,89.3 L1208.0,87.7 L1208.2,86.2 L1208.4,84.7 L1208.5,83.2 L1208.7,81.7 L1208.9,80.2 L1209.0,78.7 L1209.2,77.1 L1209.4,75.6 L1209.5,74.1 L1209.7,72.6 L1209.9,71.1"/>
<path d="M216.5,1001.1 L218.0,1001.0 L219.5,1000.9 L221.0,1000.8 L222.5,1000.7 L224.0,1000.6 L225.5,1000.5 L227.0,1000.5 L228.5,1000.4 L230.0,1000.3 L231.5,1000.2 L233.0,1000.1 L234.5,1000.0 L236.0,999.9 L237.5,999.9 L239.0,999.8 L240.5,999.7 L242.0,999.6 L243.5,999.5 L245.0,999.5 L246.5,999.4 L248.0,999.3 L249.5,999.2 L251.0,999.1 L252.5,999.1 L254.0,999.0 L255.5,998.9 L257.0,998.8 L258.5,998.8 L260.0,998.7 L261.5,998.6 L263.0,998.5 L264.5,998.5 L266.0,998.4 L267.6,998.3 L269.1,998.2 L270.6,998.2 L272.1,998.1 L273.6,998.0 L275.1,998.0 L276.6,997.9 L278.1,997.8 L279.6,997.8 L281.1,997.7 L282.6,997.6 L284.1,997.6 L285.6,997.5 L287.1,997.4 L288.6,997.4 L290.1,997.3 L291.6,997.2 L293.1,997.2 L294.6,997.1 L296.1,997.0 L297.6,997.0 L299.1,996.9 L300.6,996.8 L302.1,996.8 L303.6,996.7 L305.1,996.7 L306.6,996.6 L308.1,996.5 L309.6,996.5 L311.1,996.4 L312.6,996.4 L314.1,996.3 L315.6,996.3 L317.1,996.2 L318.6,996.1 L320.1,996.1 L321.6,996.0 L323.1,996.0 L324.6,995.9 L326.1,995.9 L327.6,995.8 L329.1,995.8 L330.6,995.7 L332.1,995.7 L333.6,995.6 L335.1,995.5 L336.6,995.5 L338.1,995.4 L339.6,995.4 L341.1,995.3 L342.6,995.3 L344.1,995.2 L345.6,995.2 L347.1,995.1 L348.6,995.1 L350.1,995.0 L351.6,995.0 L353.1,994.9 L354.6,994.9 L356.1,994.8 L357.6,994.8 L359.1,994.7 L360.6,994.7 L362.1,994.7 L363.6,994.6 L365.1,994.6 L366.6,994.5 L368.1,994.5 L369.6,994.4 L371.1,994.4 L372.6,994.3 L374.1,994.3 L375.6,994.2 L377.1,994.2 L378.6,994.1 L380.1,994.1 L381.6,994.1 L383.1,994.0 L384.7,994.0 L386.2,993.9 L387.7,993.9 L389.2,993.8 L390.7,993.8 L392.2,993.8 L393.7,993.7 L395.2,993.7 L396.7,993.6 L398.2,993.6 L399.7,993.5 L401.2,993.5 L402.7,993.5 L404.2,993.4 L405.7,993.4 L407.2,993.3 L408.7,993.3 L410.2,993.3 L411.7,993.2 L413.2,993.2 L414.7,993.1 L416.2,993.1 L417.7,993.1 L419.2,993.0 L420.7,993.0 L422.2,992.9 L423.7,992.9 L425.2,992.9 L426.7,992.8 L428.2,992.8 L429.7,992.7 L431.2,992.7 L432.7,992.7 L434.2,992.6 L435.7,992.6 L437.2,992.5 L438.7,992.5 L440.2,992.5 L441.7,992.4 L443.2,992.4 L444.7,992.3 L446.2,992.3 L447.7,992.3 L449.2,992.2 L450.7,992.2 L452.2,992.2 L453.7,992.1 L455.2,992.1 L456.7,992.0 L458.2,992.0 L459.7,992.0 L461.2,991.9 L462.7,991.9 L464.2,991.8 L465.7,991.8 L467.2,991.8 L468.7,991.7 L470.2,991.7 L471.7,991.6 L473.2,991.6 L474.7,991.6 L476.2,991.5 L477.8,991.5 L479.3,991.5 L480.8,991.4 L482.3,991.4 L483.8,991.3 L485.3,991.3 L486.8,991.3 L488.3,991.2 L489.8,991.2 L491.3,991.1 L492.8,991.1 L494.3,991.1 L495.8,991.0 L497.3,991.0 L498.8,990.9 L500.3,990.9 L501.8,990.9 L503.3,990.8 L504.8,990.8 L506.3,990.7 L507.8,990.7 L509.3,990.7 L510.8,990.6 L512.3,990.6 L513.8,990.5 L515.3,990.5 L516.8,990.4 L518.3,990.4 L519.8,990.4 L521.3,990.3 L522.8,990.3 L524.3,990.2 L525.8,990.2 L527.3,990.1 L528.8,990.1 L530.3,990.1 L531.8,990.0 L533.3,990.0 L534.8,989.9 L536.3,989.9 L537.8,989.8 L539.3,989.8 L540.8,989.7 L542.3,989.7 L543.8,989.7 L545.3,989.6 L546.8,989.6 L548.3,989.5 L549.8,989.5 L551.3,989.4 L552.8,989.4 L554.3,989.3 L555.8,989.3 L557.3,989.2 L558.8,989.2 L560.3,989.1 L561.8,989.1 L563.3,989.0 L564.8,989.0 L566.3,988.9 L567.8,988.9 L569.3,988.8 L570.8,988.8 L572.3,988.7 L573.8,988.7 L575.3,988.6 L576.8,988.6 L578.3,988.5 L579.8,988.5 L581.3,988.4 L582.8,988.4 L584.3,988.3 L585.8,988.3 L587.3,988.2 L588.8,988.2 L590.3,988.1 L591.8,988.0 L593.4,988.0 L594.9,987.9 L596.4,987.9 L597.9,987.8 L599.4,987.8 L600.9,987.7 L602.4,987.7 L603.9,987.6 L605.4,987.5 L606.9,987.5 L608.4,987.4 L609.9,987.4 L611.4,987.3 L612.9,987.2 L614.4,987.2 L615.9,987.1 L617.4,987.0 L618.9,987.0 L620.4,986.9 L621.9,986.9 L623.4,986.8 L624.9,986.7 L626.4,986.7 L627.9,986.6 L629.4,986.5 L630.9,986.5 L632.4,986.4 L633.9,986.3 L635.4,986.3 L636.9,986.2 L638.4,986.1 L639.9,986.1 L641.4,986.0 L642.9,985.9 L644.4,985.8 L645.9,985.8 L647.4,985.7 L648.9,985.6 L650.4,985.6 L651.9,985.5 L653.4,985.4 L654.9,985.3 L656.4,985.3 L657.9,985.2 L659.4,985.1 L660.9,985.0 L662.4,985.0 L663.9,984.9 L665.4,984.8 L666.9,984.7 L668.4,984.6 L669.9,984.6 L671.4,984.5 L672.9,984.4 L674.4,984.3 L675.9,984.2 L677.4,984.1 L678.9,984.1 L680.4,984.0 L681.9,983.9 L683.4,983.8 L684.9,983.7 L686.4,983.6 L687.9,983.5 L689.4,983.5 L690.9,983.4 L692.4,983.3 L693.9,983.2 L695.4,983.1 L696.9,983.0 L698.4,982.9 L699.9,982.8 L701.4,982.7 L702.9,982.6 L704.4,982.5 L705.9,982.4 L707.4,982.3 L708.9,982.3 L710.4,982.2 L711.9,982.1 L713.4,982.0 L714.9,981.9 L716.4,981.8 L717.9,981.7 L719.4,981.6 L720.9,981.4 L722.4,981.3 L723.9,981.2 L725.4,981.1 L726.9,981.0 L728.4,980.9 L729.9,980.8 L731.4,980.7 L732.9,980.6 L734.4,980.5 L735.9,980.4 L737.4,980.3 L738.9,980.2 L740.4,980.0 L741.9,979.9 L743.3,979.8 L744.8,979.7 L746.3,979.6 L747.8,979.5 L749.3,979.4 L750.8,979.2 L752.3,979.1 L753.8,979.0 L755.3,978.9 L756.8,978.8 L758.3,978.6 L759.8,978.5 L761.3,978.4 L762.8,978.3 L764.3,978.1 L765.8,978.0 L767.3,977.9 L768.8,977.8 L770.3,977.6 L771.8,977.5 L773.3,977.4 L774.8,977.2 L776.3,977.1 L777.8,977.0 L779.3,976.8 L780.8,976.7 L782.3,976.6 L783.8,976.4 L785.3,976.3 L786.8,976.2 L788.3,976.0 L789.8,975.9 L791.3,975.7 L792.8,975.6 L794.3,975.5 L795.8,975.3 L797.2,975.2 L798.7,975.0 L800.2,974.9 L801.7,974.7 L803.2,974.6 L804.7,974.4 L806.2,974.3 L807.7,974.1 L809.2,974.0 L810.7,973.8 L812.2,973.7 L813.7,973.5 L815.2,973.4 L816.7,973.2 L818.2,973.1 L819.7,972.9 L821.2,972.7 L822.7,972.6 L824.2,972.4 L825.6,972.3 L827.1,972.1 L828.6,971.9 L830.1,971.8 L831.6,971.6 L833.1,971.4 L834.6,971.3 L836.1,971.1 L837.6,970.9 L839.1,970.8 L840.6,970.6 L842.1,970.4 L843.6,970.2 L845.1,970.1 L846.5,969.9 L848.0,969.7 L849.5,969.5 L851.0,969.3 L852.5,969.2 L854.0,969.0 L855.5,968.8 L857.0,968.6 L858.5,968.4 L860.0,968.2 L861.5,968.1 L863.0,967.9 L864.4,967.7 L865.9,967.5 L867.4,967.3 L868.9,967.1 L870.4,966.9 L871.9,966.7 L873.4,966.5 L874.9,966.3 L876.4,966.1 L877.8,965.9 L879.3,965.7 L880.8,965.5 L882.3,965.3 L883.8,965.1 L885.3,964.9 L886.8,964.7 L888.3,964.5 L889.8,964.3 L891.2,964.1 L892.7,963.9 L894.2,963.7 L895.7,963.5 L897.2,963.3 L898.7,963.0 L900.2,962.8 L901.7,962.6 L903.1,962.4 L904.6,962.2 L906.1,961.9 L907.6,961.7 L909.1,961.5 L910.6,961.3 L912.1,961.1 L913.5,960.8 L915.0,960.6 L916.5,960.4 L918.0,960.1 L919.5,959.9 L921.0,959.7 L922.4,959.4 L923.9,959.2 L925.4,959.0 L926.9,958.7 L928.4,958.5 L929.9,958.3 L931.3,958.0 L932.8,957.8 L934.3,957.5 L935.8,957.3 L937.3,957.0 L938.8,956.8 L940.2,956.6 L941.7,956.3 L943.2,956.0 L944.7,955.8 L946.2,955.5 L947.6,955.3 L949.1,955.0 L950.6,954.8 L952.1,954.5 L953.6,954.2 L955.0,954.0 L956.5,953.7 L958.0,953.5 L959.5,953.2 L960.9,952.9 L962.4,952.6 L963.9,952.4 L965.4,952.1 L966.9,951.8 L968.3,951.5 L969.8,951.3 L971.3,951.0 L972.8,950.7 L974.2,950.4 L975.7,950.1 L977.2,949.8 L978.6,949.6 L980.1,949.3 L981.6,949.0 L983.1,948.7 L984.5,948.4 L986.0,948.1 L987.5,947.8 L988.9,947.5 L990.4,947.2 L991.9,946.9 L993.4,946.6 L994.8,946.2 L996.3,945.9 L997.8,945.6 L999.2,945.3 L1000.7,945.0 L1002.2,944.7 L1003.6,944.3 L1005.1,944.0 L1006.6,943.7 L1008.0,943.4 L1009.5,943.0 L1010.9,942.7 L1012.4,942.4 L1013.9,942.0 L1015.3,941.7 L1016.8,941.3 L1018.2,941.0 L1019.7,940.6 L1021.2,940.3 L1022.6,939.9 L1024.1,939.6 L1025.5,939.2 L1027.0,938.9 L1028.4,938.5 L1029.9,938.2 L1031.4,937.8 L1032.8,937.4 L1034.3,937.0 L1035.7,936.7 L1037.2,936.3 L1038.6,935.9 L1040.1,935.5 L1041.5,935.2 L1043.0,934.8 L1044.4,934.4 L1045.9,934.0 L1047.3,933.6 L1048.7,933.2 L1050.2,932.8 L1051.6,932.4 L1053.1,932.0 L1054.5,931.6 L1056.0,931.2 L1057.4,930.8 L1058.8,930.3 L1060.3,929.9 L1061.7,929.5 L1063.2,929.1 L1064.6,928.7 L1066.0,928.2 L1067.5,927.8 L1068.9,927.4 L1070.3,926.9 L1071.8,926.5 L1073.2,926.0 L1074.6,925.6 L1076.1,925.1 L1077.5,924.7 L1078.9,924.2 L1080.4,923.8 L1081.8,923.3 L1083.2,922.9 L1084.6,922.4 L1086.1,921.9 L1087.5,921.4 L1088.9,921.0 L1090.3,920.5 L1091.7,920.0 L1093.2,919.5 L1094.6,919.0 L1096.0,918.6 L1097.4,918.1 L1098.8,917.6 L1100.3,917.1 L1101.7,916.6 L1103.1,916.1 L1104.5,915.5 L1105.9,915.0 L1107.3,914.5 L1108.7,914.0 L1110.1,913.5 L1111.5,913.0 L1112.9,912.4 L1114.3,911.9 L1115.7,911.4 L1117.1,910.8 L1118.5,910.3 L1119.9,909.8 L1121.3,909.2 L1122.7,908.7 L1124.1,908.1 L1125.5,907.6 L1126.9,907.0 L1128.3,906.4 L1129.7,905.9 L1131.1,905.3 L1132.5,904.7 L1133.9,904.2 L1135.2,903.6 L1136.6,903.0 L1138.0,902.4 L1139.4,901.8 L1140.8,901.2 L1142.2,900.6 L1143.5,900.0 L1144.9,899.4 L1146.3,898.8 L1147.7,898.2 L1149.0,897.6 L1150.4,897.0 L1151.8,896.4 L1153.1,895.8 L1154.5,895.2 L1155.9,894.5 L1157.2,893.9 L1158.6,893.3 L1160.0,892.6 L1161.3,892.0 L1162.7,891.3 L1164.0,890.7 L1165.4,890.1 L1166.7,889.4 L1168.1,888.7 L1169.4,888.1 L1170.8,887.4 L1172.1,886.7 L1173.5,886.1 L1174.8,885.4 L1176.2,884.7 L1177.5,884.0 L1178.9,883.4 L1180.2,882.7 L1181.5,882.0 L1182.9,881.3 L1184.2,880.6 L1185.5,879.9 L1186.9,879.2 L1188.2,878.5 L1189.5,877.8 L1190.8,877.0 L1192.2,876.3 L1193.5,875.6 L1194.8,874.9 L1196.1,874.1 L1197.4,873.4 L1198.8,872.7 L1200.1,871.9 L1201.4,871.2 L1202.7,870.4 L1204.0,869.7 L1205.3,868.9 L1206.6,868.2 L1207.9,867.4 L1209.2,866.6 L1210.5,865.9 L1211.8,865.1 L1213.1,864.3 L1214.4,863.5 L1215.7,862.7 L1217.0,861.9 L1218.3,861.2 L1219.6,860.4 L1220.8,859.6 L1222.1,858.8 L1223.4,857.9 L1224.7,857.1 L1225.9,856.3 L1227.2,855.5 L1228.5,854.7 L1229.7,853.9 L1231.0,853.0 L1232.3,852.2 L1233.5,851.3 L1234.8,850.5 L1236.0,849.7 L1237.3,848.8 L1238.5,848.0 L1239.8,847.1 L1241.0,846.2 L1242.3,845.4 L1243.5,844.5 L1244.7,843.6 L1246.0,842.8 L1247.2,841.9 L1248.4,841.0 L1249.7,840.1 L1250.9,839.2 L1252.1,838.3 L1253.3,837.4 L1254.5,836.5 L1255.7,835.6 L1256.9,834.7 L1258.1,833.8 L1259.3,832.9 L1260.5,832.0 L1261.7,831.0 L1262.9,830.1 L1264.1,829.2 L1265.3,828.3 L1266.5,827.3 L1267.6,826.4 L1268.8,825.4 L1270.0,824.5 L1271.1,823.5 L1272.3,822.6 L1273.4,821.6 L1274.6,820.6 L1275.8,819.7 L1276.9,818.7 L1278.0,817.7 L1279.2,816.7 L1280.3,815.7 L1281.4,814.8 L1282.6,813.8 L1283.7,812.8 L1284.8,811.8 L1285.9,810.8 L1287.0,809.7 L1288.1,808.7 L1289.3,807.7 L1290.4,806.7 L1291.4,805.7 L1292.5,804.6 L1293.6,803.6 L1294.7,802.6 L1295.8,801.5 L1296.9,800.5 L1297.9,799.4 L1299.0,798.4 L1300.1,797.3 L1301.1,796.3 L1302.2,795.2 L1303.2,794.1 L1304.3,793.1 L1305.3,792.0 L1306.3,790.9 L1307.4,789.8 L1308.4,788.7 L1309.4,787.7 L1310.4,786.6 L1311.4,785.5 L1312.4,784.4 L1313.4,783.3 L1314.4,782.1 L1315.4,781.0 L1316.4,779.9 L1317.4,778.8 L1318.4,777.7 L1319.3,776.5 L1320.3,775.4 L1321.3,774.3 L1322.2,773.1 L1323.2,772.0 L1324.1,770.8 L1325.0,769.7 L1326.0,768.5 L1326.9,767.3 L1327.8,766.2 L1328.8,765.0 L1329.7,763.8 L1330.6,762.7 L1331.5,761.5 L1332.4,760.3 L1333.3,759.1 L1334.2,757.9 L1335.0,756.7 L1335.9,755.5 L1336.8,754.3 L1337.7,753.1 L1338.5,751.9 L1339.4,750.7 L1340.2,749.5 L1341.1,748.2 L1341.9,747.0 L1342.8,745.8 L1343.6,744.5 L1344.4,743.3 L1345.2,742.1 L1346.1,740.8 L1346.9,739.6 L1347.7,738.3 L1348.5,737.1 L1349.3,735.8 L1350.1,734.6 L1350.9,733.3 L1351.6,732.0 L1352.4,730.8 L1353.2,729.5 L1354.0,728.2 L1354.7,726.9 L1355.5,725.7 L1356.2,724.4 L1357.0,723.1 L1357.7,721.8 L1358.5,720.5 L1359.2,719.2 L1359.9,717.9 L1360.6,716.6 L1361.3,715.3 L1362.1,714.0 L1362.8,712.7 L1363.5,711.3 L1364.2,710.0 L1364.8,708.7 L1365.5,707.4 L1366.2,706.1 L1366.9,704.7 L1367.6,703.4 L1368.2,702.1 L1368.9,700.7 L1369.5,699.4 L1370.2,698.0 L1370.8,696.7 L1371.5,695.3 L1372.1,694.0 L1372.7,692.6 L1373.4,691.3 L1374.0,689.9 L1374.6,688.6 L1375.2,687.2 L1375.8,685.8 L1376.4,684.5 L1377.0,683.1 L1377.6,681.7 L1378.2,680.3 L1378.8,679.0 L1379.3,677.6 L1379.9,676.2 L1380.5,674.8 L1381.0,673.4 L1381.6,672.0 L1382.1,670.6 L1382.7,669.2 L1383.2,667.8 L1383.8,666.4 L1384.3,665.0 L1384.8,663.6 L1385.3,662.2 L1385.9,660.8 L1386.4,659.4 L1386.9,658.0 L1387.4,656.6 L1387.9,655.2 L1388.4,653.7 L1388.8,652.3 L1389.3,650.9 L1389.8,649.5 L1390.3,648.0 L1390.7,646.6 L1391.2,645.2 L1391.7,643.7 L1392.1,642.3 L1392.5,640.9 L1393.0,639.4 L1393.4,638.0 L1393.9,636.6 L1394.3,635.1 L1394.7,633.7 L1395.1,632.2 L1395.5,630.8 L1395.9,629.3 L1396.3,627.9 L1396.7,626.4 L1397.1,625.0 L1397.5,623.5 L1397.9,622.0 L1398.3,620.6 L1398.6,619.1 L1399.0,617.7 L1399.4,616.2 L1399.7,614.7 L1400.1,613.3 L1400.4,611.8 L1400.8,610.3 L1401.1,608.8 L1401.5,607.4 L1401.8,605.9 L1402.1,604.4 L1402.4,602.9 L1402.8,601.5 L1403.1,600.0 L1403.4,598.5 L1403.7,597.0 L1404.0,595.6 L1404.3,594.1 L1404.6,592.6 L1404.9,591.1 L1405.2,589.6 L1405.4,588.1 L1405.7,586.6 L1406.0,585.1 L1406.3,583.7 L1406.5,582.2 L1406.8,580.7 L1407.0,579.2 L1407.3,577.7 L1407.5,576.2 L1407.8,574.7 L1408.0,573.2 L1408.3,571.7 L1408.5,570.2 L1408.7,568.7 L1409.0,567.2 L1409.2,565.7 L1409.4,564.2 L1409.6,562.7 L1409.8,561.2 L1410.1,559.7 L1410.3,558.2 L1410.5,556.7 L1410.7,555.2 L1410.9,553.7 L1411.1,552.2 L1411.3,550.7 L1411.5,549.2 L1411.6,547.7 L1411.8,546.2 L1412.0,544.7 L1412.2,543.2 L1412.4,541.7 L1412.5,540.2 L1412.7,538.7 L1412.9,537.2 L1413.0,535.7 L1413.2,534.2 L1413.4,532.7 L1413.5,531.2 L1413.7,529.7 L1413.8,528.2 L1414.0,526.6 L1414.1,525.1 L1414.3,523.6 L1414.4,522.1 L1414.5,520.6 L1414.7,519.1 L1414.8,517.6 L1414.9,516.1 L1415.1,514.6 L1415.2,513.1 L1415.3,511.6 L1415.4,510.1 L1415.6,508.6 L1415.7,507.1 L1415.8,505.6 L1415.9,504.1 L1416.0,502.6 L1416.1,501.1 L1416.3,499.6 L1416.4,498.1 L1416.5,496.6 L1416.6,495.1 L1416.7,493.6 L1416.8,492.1 L1416.9,490.6 L1417.0,489.1 L1417.1,487.7 L1417.2,486.2 L1417.3,484.7 L1417.3,483.2 L1417.4,481.7 L1417.5,480.2 L1417.6,478.7 L1417.7,477.2 L1417.8,475.7 L1417.9,474.3 L1418.0,472.8 L1418.0,471.3 L1418.1,469.8 L1418.2,468.3 L1418.3,466.8 L1418.3,465.4 L1418.4,463.9 L1418.5,462.4 L1418.6,460.9 L1418.6,459.5 L1418.7,458.0 L1418.8,456.5 L1418.9,455.1 L1418.9,453.6 L1419.0,452.1 L1419.1,450.7 L1419.1,449.2 L1419.2,447.7"/>
<path d="M1424.9,367.8 L1425.0,366.3 L1425.1,364.8 L1425.2,363.3 L1425.2,361.8 L1425.3,360.3 L1425.4,358.7 L1425.5,357.2 L1425.6,355.7 L1425.7,354.2 L1425.7,352.7 L1425.8,351.2 L1425.9,349.7 L1426.0,348.2 L1426.1,346.7 L1426.2,345.2 L1426.3,343.7 L1426.3,342.1 L1426.4,340.6 L1426.5,339.1 L1426.6,337.6 L1426.7,336.1 L1426.8,334.6 L1426.8,333.1 L1426.9,331.6 L1427.0,330.1 L1427.1,328.6 L1427.2,327.1 L1427.3,325.5 L1427.4,324.0 L1427.4,322.5 L1427.5,321.0 L1427.6,319.5 L1427.7,318.0 L1427.8,316.5 L1427.9,315.0 L1428.0,313.5 L1428.0,312.0 L1428.1,310.5 L1428.2,308.9 L1428.3,307.4 L1428.4,305.9 L1428.5,304.4 L1428.6,302.9 L1428.6,301.4 L1428.7,299.9 L1428.8,298.4 L1428.9,296.9 L1429.0,295.4 L1429.1,293.9 L1429.2,292.3 L1429.2,290.8 L1429.3,289.3 L1429.4,287.8 L1429.5,286.3 L1429.6,284.8 L1429.7,283.3 L1429.8,281.8 L1429.8,280.3 L1429.9,278.8 L1430.0,277.3 L1430.1,275.7 L1430.2,274.2 L1430.3,272.7 L1430.4,271.2 L1430.5,269.7 L1430.5,268.2 L1430.6,266.7 L1430.7,265.2 L1430.8,263.7 L1430.9,262.2 L1431.0,260.7 L1431.1,259.2 L1431.1,257.6 L1431.2,256.1 L1431.3,254.6 L1431.4,253.1 L1431.5,251.6 L1431.6,250.1 L1431.7,248.6 L1431.8,247.1 L1431.8,245.6 L1431.9,244.1 L1432.0,242.6 L1432.1,241.0 L1432.2,239.5 L1432.3,238.0 L1432.4,236.5 L1432.5,235.0 L1432.5,233.5 L1432.6,232.0 L1432.7,230.5 L1432.8,229.0 L1432.9,227.5 L1433.0,226.0 L1433.1,224.4 L1433.2,222.9 L1433.2,221.4 L1433.3,219.9 L1433.4,218.4 L1433.5,216.9 L1433.6,215.4 L1433.7,213.9 L1433.8,212.4 L1433.9,210.9 L1434.0,209.4 L1434.0,207.8 L1434.1,206.3 L1434.2,204.8 L1434.3,203.3 L1434.4,201.8 L1434.5,200.3 L1434.6,198.8 L1434.7,197.3 L1434.8,195.8 L1434.8,194.3 L1434.9,192.8 L1435.0,191.3 L1435.1,189.7 L1435.2,188.2 L1435.3,186.7 L1435.4,185.2 L1435.5,183.7 L1435.6,182.2 L1435.6,180.7 L1435.7,179.2 L1435.8,177.7 L1435.9,176.2 L1436.0,174.7 L1436.1,173.1 L1436.2,171.6 L1436.3,170.1 L1436.4,168.6 L1436.4,167.1 L1436.5,165.6 L1436.6,164.1 L1436.7,162.6 L1436.8,161.1 L1436.9,159.6 L1437.0,158.1 L1437.1,156.5 L1437.2,155.0 L1437.2,153.5 L1437.3,152.0 L1437.4,150.5 L1437.5,149.0 L1437.6,147.5 L1437.7,146.0 L1437.8,144.5 L1437.9,143.0 L1438.0,141.5 L1438.1,140.0 L1438.1,138.4 L1438.2,136.9 L1438.3,135.4 L1438.4,133.9 L1438.5,132.4 L1438.6,130.9 L1438.7,129.4 L1438.8,127.9 L1438.9,126.4 L1439.0,124.9 L1439.1,123.4 L1439.1,121.8 L1439.2,120.3 L1439.3,118.8 L1439.4,117.3 L1439.5,115.8 L1439.6,114.3 L1439.7,112.8 L1439.8,111.3 L1439.9,109.8 L1440.0,108.3 L1440.1,106.8 L1440.1,105.3 L1440.2,103.7 L1440.3,102.2 L1440.4,100.7 L1440.5,99.2 L1440.6,97.7 L1440.7,96.2 L1440.8,94.7 L1440.9,93.2 L1441.0,91.7 L1441.1,90.2 L1441.1,88.7 L1441.2,87.1 L1441.3,85.6 L1441.4,84.1 L1441.5,82.6 L1441.6,81.1 L1441.7,79.6 L1441.8,78.1 L1441.9,76.6 L1442.0,75.1 L1442.1,73.6 L1442.2,72.1 L1442.2,70.6 L1442.3,69.0 L1442.4,67.5 L1442.5,66.0 L1442.6,64.5 L1442.7,63.0 L1442.8,61.5"/>
<polygon fill="#000" stroke="none" points="492.0,964.6 494.0,964.6 496.0,964.6 498.0,964.6 500.0,964.6 502.0,964.6 504.0,964.6 506.0,964.5 508.0,964.5 510.0,964.5 512.0,964.5 514.0,964.5 516.0,964.5 518.0,964.4 520.0,964.4 522.0,964.4 524.0,964.4 526.0,964.4 528.0,964.3 530.0,964.3 532.0,964.3 534.0,964.3 536.0,964.2 538.0,964.2 540.0,964.2 542.0,964.2 544.0,964.1 546.0,964.1 548.0,964.1 550.0,964.0 552.0,964.0 554.0,964.0 556.0,963.9 558.0,963.9 560.0,963.9 562.0,963.8 564.0,963.8 566.0,963.8 568.0,963.7 570.0,963.7 572.0,963.6 574.0,963.6 576.0,963.6 578.0,963.5 580.0,963.5 582.0,963.4 584.0,963.4 586.0,963.3 588.0,963.3 590.0,963.2 592.0,963.2 594.0,963.1 596.0,963.1 598.0,963.0 600.0,963.0 602.0,962.9 604.0,962.9 606.0,962.8 608.0,962.7 610.0,962.7 612.0,962.6 614.0,962.6 616.0,962.5 618.0,962.4 620.0,962.4 622.0,962.3 624.0,962.2 626.0,962.2 628.0,962.1 630.0,962.0 632.0,962.0 634.0,961.9 636.0,961.8 638.0,961.8 640.0,961.7 642.0,961.6 644.0,961.5 646.0,961.4 648.0,961.4 650.0,961.3 652.0,961.2 654.0,961.1 656.0,961.0 658.0,961.0 660.0,960.9 662.0,960.8 664.0,960.7 666.0,960.6 668.0,960.5 670.0,960.4 672.0,960.3 674.0,960.2 676.0,960.1 678.0,960.0 680.0,959.9 682.0,959.8 684.0,959.7 686.0,959.6 688.0,959.5 690.0,959.4 692.0,959.3 694.0,959.2 696.0,959.1 698.0,959.0 700.0,958.9 702.0,958.8 704.0,958.7 706.0,958.6 708.0,958.4 710.0,958.3 712.0,958.2 714.0,958.1 716.0,958.0 718.0,957.8 720.0,957.7 722.0,957.6 724.0,957.5 726.0,957.3 728.0,957.2 730.0,957.1 732.0,956.9 734.0,956.8 736.0,956.7 738.0,956.5 740.0,956.4 742.0,956.3 744.0,956.1 746.0,956.0 748.0,955.8 750.0,955.7 752.0,955.5 754.0,955.4 756.0,955.2 758.0,955.1 760.0,954.9 762.0,954.8 764.0,954.6 766.0,954.5 768.0,954.3 770.0,954.1 772.0,954.0 774.0,953.8 776.0,953.7 778.0,953.5 780.0,953.3 782.0,953.2 784.0,953.0 786.0,952.8 788.0,952.6 790.0,952.5 792.0,952.3 794.0,952.1 796.0,951.9 798.0,951.7 800.0,951.6 802.0,951.4 804.0,951.2 806.0,951.0 808.0,950.8 810.0,950.6 812.0,950.4 814.0,950.2 816.0,950.1 816.0,940.5 814.0,940.9 812.0,941.3 810.0,941.7 808.0,942.1 806.0,942.5 804.0,942.9 802.0,943.3 800.0,943.7 798.0,944.0 796.0,944.4 794.0,944.8 792.0,945.1 790.0,945.5 788.0,945.8 786.0,946.2 784.0,946.5 782.0,946.9 780.0,947.2 778.0,947.6 776.0,947.9 774.0,948.2 772.0,948.5 770.0,948.9 768.0,949.2 766.0,949.5 764.0,949.8 762.0,950.1 760.0,950.4 758.0,950.7 756.0,951.0 754.0,951.3 752.0,951.6 750.0,951.9 748.0,952.2 746.0,952.5 744.0,952.8 742.0,953.1 740.0,953.3 738.0,953.6 736.0,953.9 734.0,954.2 732.0,954.4 730.0,954.7 728.0,954.9 726.0,955.2 724.0,955.5 722.0,955.7 720.0,956.0 718.0,956.2 716.0,956.5 714.0,956.7 712.0,957.0 710.0,957.2 708.0,957.4 706.0,957.7 704.0,957.9 702.0,958.1 700.0,958.4 698.0,958.6 696.0,958.8 694.0,959.1 692.0,959.3 690.0,959.5 688.0,959.7 686.0,959.9 684.0,960.1 682.0,960.4 680.0,960.6 678.0,960.8 676.0,961.0 674.0,961.2 672.0,961.4 670.0,961.6 668.0,961.8 666.0,962.0 664.0,962.2 662.0,962.4 660.0,962.6 658.0,962.8 656.0,963.0 654.0,963.2 652.0,963.4 650.0,963.6 648.0,963.8 646.0,964.0 644.0,964.2 642.0,964.3 640.0,964.5 638.0,964.7 636.0,964.9 634.0,965.1 632.0,965.3 630.0,965.4 628.0,965.6 626.0,965.8 624.0,966.0 622.0,966.2 620.0,966.3 618.0,966.5 616.0,966.7 614.0,966.9 612.0,967.1 610.0,967.2 608.0,967.4 606.0,967.6 604.0,967.8 602.0,967.9 600.0,968.1 598.0,968.3 596.0,968.4 594.0,968.6 592.0,968.8 590.0,969.0 588.0,969.1 586.0,969.3 584.0,969.5 582.0,969.6 580.0,969.8 578.0,970.0 576.0,970.1 574.0,970.3 572.0,970.5 570.0,970.6 568.0,970.8 566.0,971.0 564.0,971.1 562.0,971.3 560.0,971.5 558.0,971.6 556.0,971.8 554.0,972.0 552.0,972.1 550.0,972.3 548.0,972.5 546.0,972.6 544.0,972.8 542.0,973.0 540.0,973.1 538.0,973.3 536.0,973.4 534.0,973.6 532.0,973.8 530.0,973.9 528.0,974.1 526.0,974.3 524.0,974.4 522.0,974.6 520.0,974.8 518.0,974.9 516.0,975.1 514.0,975.3 512.0,975.4 510.0,975.6 508.0,975.8 506.0,975.9 504.0,976.1 502.0,976.3 500.0,976.4 498.0,976.6 496.0,976.8 494.0,976.9 492.0,977.1"/>
<polygon fill="#000" stroke="none" points="1084.0,910.8 1086.0,910.4 1088.0,910.1 1090.0,909.7 1092.0,909.3 1094.0,908.9 1096.0,908.5 1098.0,908.1 1100.0,907.7 1102.0,907.3 1104.0,906.9 1106.0,906.4 1108.0,906.0 1110.0,905.6 1112.0,905.2 1114.0,904.8 1116.0,904.4 1118.0,904.0 1120.0,903.6 1122.0,903.1 1124.0,902.7 1126.0,902.3 1128.0,901.9 1130.0,901.4 1132.0,901.0 1134.0,900.6 1136.0,900.2 1138.0,899.7 1140.0,899.3 1142.0,898.9 1144.0,898.4 1146.0,898.0 1148.0,897.6 1150.0,897.1 1152.0,896.7 1154.0,896.2 1156.0,895.8 1158.0,895.3 1160.0,894.9 1162.0,894.4 1164.0,894.0 1166.0,893.5 1168.0,893.1 1170.0,892.6 1172.0,892.2 1174.0,891.7 1176.0,891.3 1178.0,890.8 1180.0,890.3 1182.0,889.9 1184.0,889.4 1184.0,880.7 1182.0,881.7 1180.0,882.8 1178.0,883.8 1176.0,884.8 1174.0,885.8 1172.0,886.8 1170.0,887.8 1168.0,888.8 1166.0,889.8 1164.0,890.7 1162.0,891.7 1160.0,892.6 1158.0,893.5 1156.0,894.5 1154.0,895.4 1152.0,896.3 1150.0,897.2 1148.0,898.1 1146.0,899.0 1144.0,899.8 1142.0,900.7 1140.0,901.6 1138.0,902.4 1136.0,903.3 1134.0,904.1 1132.0,904.9 1130.0,905.7 1128.0,906.6 1126.0,907.4 1124.0,908.2 1122.0,908.9 1120.0,909.7 1118.0,910.5 1116.0,911.3 1114.0,912.0 1112.0,912.8 1110.0,913.5 1108.0,914.3 1106.0,915.0 1104.0,915.7 1102.0,916.4 1100.0,917.2 1098.0,917.9 1096.0,918.6 1094.0,919.2 1092.0,919.9 1090.0,920.6 1088.0,921.3 1086.0,921.9 1084.0,922.6"/>
<polygon fill="#000" stroke="none" points="824.0,928.1 826.0,927.9 828.0,927.6 830.0,927.4 832.0,927.2 834.0,926.9 836.0,926.7 838.0,926.4 840.0,926.2 842.0,925.9 844.0,925.7 846.0,925.4 848.0,925.2 850.0,924.9 852.0,924.6 854.0,924.3 856.0,924.1 858.0,923.8 860.0,923.5 862.0,923.2 864.0,922.9 866.0,922.6 868.0,922.3 870.0,922.0 872.0,921.7 874.0,921.4 876.0,921.1 878.0,920.8 880.0,920.4 882.0,920.1 884.0,919.8 886.0,919.4 888.0,919.1 890.0,918.8 892.0,918.4 894.0,918.1 896.0,917.7 898.0,917.4 900.0,917.0 902.0,916.6 904.0,916.3 906.0,915.9 908.0,915.5 910.0,915.1 912.0,914.7 914.0,914.3 916.0,913.9 918.0,913.5 920.0,913.1 922.0,912.7 924.0,912.3 926.0,911.9 928.0,911.5 930.0,911.0 932.0,910.6 934.0,910.2 936.0,909.7 938.0,909.3 940.0,908.8 942.0,908.4 944.0,907.9 946.0,907.5 948.0,907.0 950.0,906.5 952.0,906.1 954.0,905.6 956.0,905.1 958.0,904.6 960.0,904.1 962.0,903.7 964.0,903.2 966.0,902.7 968.0,902.2 970.0,901.6 972.0,901.1 974.0,900.6 976.0,900.1 978.0,899.6 980.0,899.0 982.0,898.5 984.0,898.0 986.0,897.4 988.0,896.9 988.0,883.7 986.0,884.7 984.0,885.7 982.0,886.7 980.0,887.7 978.0,888.7 976.0,889.6 974.0,890.6 972.0,891.5 970.0,892.5 968.0,893.4 966.0,894.3 964.0,895.2 962.0,896.1 960.0,896.9 958.0,897.8 956.0,898.7 954.0,899.5 952.0,900.3 950.0,901.2 948.0,902.0 946.0,902.8 944.0,903.6 942.0,904.4 940.0,905.2 938.0,905.9 936.0,906.7 934.0,907.5 932.0,908.2 930.0,909.0 928.0,909.7 926.0,910.4 924.0,911.1 922.0,911.8 920.0,912.5 918.0,913.2 916.0,913.9 914.0,914.6 912.0,915.3 910.0,915.9 908.0,916.6 906.0,917.3 904.0,917.9 902.0,918.5 900.0,919.2 898.0,919.8 896.0,920.4 894.0,921.0 892.0,921.6 890.0,922.2 888.0,922.8 886.0,923.4 884.0,924.0 882.0,924.6 880.0,925.1 878.0,925.7 876.0,926.2 874.0,926.8 872.0,927.3 870.0,927.9 868.0,928.4 866.0,928.9 864.0,929.5 862.0,930.0 860.0,930.5 858.0,931.0 856.0,931.5 854.0,932.0 852.0,932.5 850.0,933.0 848.0,933.5 846.0,933.9 844.0,934.4 842.0,934.9 840.0,935.3 838.0,935.8 836.0,936.3 834.0,936.7 832.0,937.1 830.0,937.6 828.0,938.0 826.0,938.5 824.0,938.9"/>
</g>
<g stroke="#000" fill="none" stroke-width="7.4" stroke-linecap="round" stroke-linejoin="round">
<path d="M329.2,926.4 L330.5,926.5 L332.0,926.6 L333.5,926.8 L335.0,926.9 L336.5,927.0 L338.0,927.1 L339.5,927.2 L341.0,927.4 L342.5,927.5 L344.0,927.6 L345.5,927.7 L347.0,927.8 L348.5,928.0 L350.0,928.1 L351.5,928.2 L352.9,928.3 L354.4,928.4 L355.9,928.5 L357.4,928.6 L358.9,928.8 L360.4,928.9 L361.9,929.0 L363.4,929.1 L364.9,929.2 L366.4,929.3 L367.9,929.4 L369.4,929.5 L370.9,929.6 L372.4,929.8 L373.9,929.9 L374.8,929.9"/>
<path d="M389.2,930.9 L390.4,931.0 L391.9,931.1 L393.4,931.2 L394.9,931.3 L396.4,931.4 L397.9,931.5 L399.4,931.6 L400.8,931.7 L402.3,931.8 L403.8,931.9 L405.3,932.0 L406.8,932.1 L408.3,932.2 L409.8,932.3 L411.3,932.4 L412.8,932.5 L414.3,932.6 L415.8,932.6 L417.3,932.7 L418.8,932.8 L420.3,932.9 L421.8,933.0 L423.3,933.1 L424.8,933.2 L426.3,933.3 L427.8,933.4 L429.3,933.4 L430.8,933.5 L432.3,933.6 L432.8,933.6"/>
<path d="M448.2,934.5 L448.8,934.5 L450.3,934.6 L451.8,934.7 L453.3,934.7 L454.8,934.8 L456.3,934.9 L457.8,935.0 L459.3,935.0 L460.8,935.1 L462.3,935.2 L463.8,935.2 L465.3,935.3 L466.8,935.4 L468.3,935.4 L469.8,935.5 L471.3,935.6 L472.8,935.7 L474.3,935.7 L475.8,935.8 L477.3,935.8 L478.8,935.9 L480.4,936.0 L481.9,936.0 L483.4,936.1 L484.9,936.2 L486.4,936.2 L487.9,936.3 L489.4,936.3 L490.9,936.4 L492.4,936.5 L493.9,936.5 L494.6,936.5"/>
<path d="M514.4,937.2 L514.9,937.3 L516.4,937.3 L517.9,937.3 L519.4,937.4 L520.9,937.4 L522.4,937.5 L523.9,937.5 L525.4,937.6 L526.9,937.6 L528.4,937.6 L529.9,937.7 L531.4,937.7 L532.9,937.8 L534.4,937.8 L535.9,937.8 L537.4,937.9 L538.9,937.9 L540.4,937.9 L541.9,938.0 L543.4,938.0 L545.0,938.0 L546.5,938.1 L548.0,938.1 L549.5,938.1 L551.0,938.2 L552.5,938.2 L554.0,938.2 L555.5,938.3 L557.0,938.3 L558.5,938.3 L560.0,938.3 L561.3,938.4"/>
<path d="M577.9,938.6 L578.0,938.6 L579.5,938.6 L581.0,938.6 L582.5,938.6 L584.0,938.6 L585.5,938.6 L587.0,938.6 L588.5,938.7 L590.0,938.7 L591.5,938.7 L593.1,938.7 L594.6,938.7 L596.1,938.7 L597.6,938.7 L599.1,938.7 L600.6,938.7 L602.1,938.7 L603.6,938.7 L605.1,938.7 L606.6,938.7 L608.1,938.7 L609.6,938.7 L611.1,938.7 L612.6,938.7 L614.1,938.7 L615.6,938.7 L617.1,938.7 L618.6,938.7 L620.1,938.7 L621.6,938.7 L623.1,938.7 L623.4,938.7"/>
<path d="M641.4,938.5 L642.7,938.5 L644.2,938.4 L645.7,938.4 L647.2,938.4 L648.7,938.4 L650.2,938.3 L651.7,938.3 L653.2,938.3 L654.7,938.3 L656.2,938.2 L657.7,938.2 L659.2,938.2 L660.7,938.1 L662.2,938.1 L663.7,938.1 L665.2,938.0 L666.7,938.0 L668.2,938.0 L669.7,937.9 L671.2,937.9 L672.7,937.9 L674.2,937.8 L675.7,937.8 L677.2,937.7 L678.7,937.7 L680.2,937.6 L681.7,937.6 L683.2,937.6 L684.7,937.5 L686.2,937.5 L687.7,937.4"/>
<path d="M705.1,936.8 L705.8,936.8 L707.3,936.7 L708.8,936.6 L710.3,936.6 L711.8,936.5 L713.3,936.5 L714.8,936.4 L716.3,936.3 L717.8,936.3 L719.3,936.2 L720.8,936.1 L722.3,936.0 L723.8,936.0 L725.3,935.9 L726.8,935.8 L728.3,935.7 L729.8,935.7 L731.3,935.6 L732.8,935.5 L734.3,935.4 L735.8,935.4 L737.3,935.3 L738.8,935.2 L740.3,935.1 L741.8,935.0 L743.3,934.9 L744.8,934.8 L746.3,934.7 L747.8,934.7 L749.3,934.6 L750.8,934.5 L750.9,934.5"/>
<path d="M768.3,933.3 L768.8,933.2 L770.3,933.1 L771.8,933.0 L773.3,932.9 L774.8,932.8 L776.3,932.7 L777.8,932.5 L779.2,932.4 L780.7,932.3 L782.2,932.2 L783.7,932.1 L785.2,931.9 L786.7,931.8 L788.2,931.7 L789.7,931.5 L791.2,931.4 L792.7,931.3 L794.2,931.1 L795.7,931.0 L797.2,930.9 L798.7,930.7 L800.2,930.6 L801.7,930.4 L803.2,930.3 L804.7,930.1 L806.1,930.0 L807.6,929.9 L809.1,929.7 L810.6,929.5 L810.7,929.5"/>
<path d="M825.2,928.0 L825.5,927.9 L827.0,927.8 L828.5,927.6 L830.0,927.4 L831.5,927.2 L833.0,927.1 L834.5,926.9 L836.0,926.7 L837.4,926.5 L838.9,926.3 L840.4,926.1 L841.9,925.9 L843.4,925.8 L844.9,925.6 L846.4,925.4 L847.9,925.2 L849.3,925.0 L850.8,924.8 L852.3,924.6 L853.8,924.4 L855.3,924.2 L856.8,924.0 L858.2,923.7 L859.7,923.5 L861.2,923.3 L862.7,923.1 L864.2,922.9 L865.7,922.7 L867.1,922.4 L868.6,922.2 L869.8,922.0"/>
<path d="M883.2,919.9 L883.4,919.9 L884.9,919.6 L886.4,919.4 L887.9,919.1 L889.3,918.9 L890.8,918.6 L892.3,918.4 L893.8,918.1 L895.2,917.8 L896.7,917.6 L898.2,917.3 L899.7,917.1 L901.1,916.8 L902.6,916.5 L904.1,916.2 L905.6,916.0 L907.0,915.7 L908.5,915.4 L910.0,915.1 L911.4,914.8 L912.9,914.5 L914.4,914.3 L915.9,914.0 L917.3,913.7 L918.8,913.4 L920.3,913.1 L921.7,912.8 L923.2,912.5 L924.7,912.2 L926.1,911.9 L927.6,911.6 L929.1,911.2 L930.5,910.9 L932.0,910.6 L933.5,910.3 L933.8,910.2"/>
<path d="M945.2,907.7 L946.7,907.3 L948.1,907.0 L949.6,906.6 L951.0,906.3 L952.5,906.0 L954.0,905.6 L955.4,905.3 L956.9,904.9 L958.3,904.6 L959.8,904.2 L961.2,903.8 L962.7,903.5 L964.2,903.1 L965.6,902.8 L967.1,902.4 L968.5,902.0 L970.0,901.6 L971.4,901.3 L972.9,900.9 L974.4,900.5 L975.8,900.1 L977.3,899.8 L978.7,899.4 L980.2,899.0 L981.6,898.6 L983.1,898.2 L984.5,897.8 L986.0,897.4 L987.4,897.0 L988.8,896.7"/>
<path d="M1006.7,891.6 L1007.7,891.3 L1009.1,890.9 L1010.6,890.5 L1012.0,890.1 L1013.5,889.6 L1014.9,889.2 L1016.3,888.8 L1017.8,888.4 L1019.2,887.9 L1020.7,887.5 L1022.1,887.1 L1023.5,886.6 L1025.0,886.2 L1026.4,885.7 L1027.8,885.3 L1029.3,884.8 L1030.7,884.4 L1032.2,883.9 L1033.6,883.5 L1035.0,883.0 L1036.5,882.6 L1037.9,882.1 L1039.3,881.7 L1040.8,881.2 L1042.2,880.8 L1043.6,880.3 L1045.1,879.8 L1046.5,879.4 L1047.9,878.9 L1049.4,878.4 L1050.8,878.0 L1051.6,877.7"/>
<path d="M1070.2,871.4 L1070.8,871.2 L1072.2,870.7 L1073.6,870.2 L1075.0,869.8 L1076.5,869.3 L1077.9,868.8 L1079.3,868.3 L1080.7,867.8 L1082.1,867.3 L1083.6,866.8 L1085.0,866.2 L1086.4,865.7 L1087.8,865.2 L1089.2,864.7 L1090.6,864.2 L1092.1,863.7 L1093.5,863.2 L1094.9,862.7 L1096.3,862.2 L1097.7,861.6 L1099.1,861.1 L1100.6,860.6 L1102.0,860.1 L1103.4,859.6 L1104.8,859.0 L1106.2,858.5 L1107.6,858.0 L1109.0,857.5 L1110.4,856.9 L1111.6,856.5"/>
<path d="M1130.4,849.3 L1131.5,848.9 L1132.9,848.3 L1134.3,847.8 L1135.7,847.2 L1137.1,846.7 L1138.5,846.1 L1139.9,845.6 L1141.3,845.0 L1142.7,844.5 L1144.1,843.9 L1145.5,843.4 L1146.9,842.8 L1148.3,842.2 L1149.7,841.7 L1151.1,841.1 L1152.5,840.6 L1153.9,840.0 L1155.3,839.4 L1156.7,838.9 L1158.1,838.3 L1159.4,837.7 L1160.8,837.2 L1162.2,836.6 L1163.6,836.0 L1165.0,835.5 L1166.4,834.9 L1167.8,834.3 L1169.2,833.7 L1170.6,833.2 L1171.9,832.6"/>
<path d="M1191.7,824.3 L1192.7,823.8 L1194.1,823.3 L1195.4,822.7 L1196.8,822.1 L1198.2,821.5 L1199.6,820.9 L1201.0,820.3 L1202.3,819.7 L1203.7,819.1 L1205.1,818.5 L1206.5,817.9 L1207.8,817.3 L1209.2,816.7 L1210.6,816.1 L1211.9,815.5 L1213.3,814.9 L1214.7,814.3 L1216.1,813.7 L1217.4,813.0 L1218.8,812.4 L1220.2,811.8 L1221.5,811.2 L1222.9,810.6 L1224.3,810.0 L1225.6,809.4 L1227.0,808.8 L1228.4,808.1 L1229.7,807.5 L1231.1,806.9 L1232.5,806.3 L1233.8,805.7 L1234.3,805.5"/>
<path d="M1252.2,797.2 L1252.9,796.9 L1254.2,796.3 L1255.6,795.6 L1256.9,795.0 L1258.3,794.3 L1259.7,793.7 L1261.0,793.1 L1262.4,792.4 L1263.7,791.8 L1265.1,791.1 L1266.4,790.5 L1267.8,789.8 L1269.1,789.2 L1270.5,788.6 L1271.8,787.9 L1273.2,787.3 L1274.5,786.6 L1275.9,786.0 L1277.2,785.3 L1278.6,784.7 L1279.9,784.0 L1281.3,783.4 L1282.6,782.7 L1284.0,782.1 L1285.3,781.4 L1286.7,780.7 L1288.0,780.1 L1289.4,779.4 L1290.7,778.8 L1292.1,778.1 L1293.4,777.4 L1293.8,777.3"/>
<path d="M1312.2,768.1 L1312.2,768.1 L1313.6,767.5 L1314.9,766.8 L1316.3,766.1 L1317.6,765.4 L1318.9,764.8 L1320.3,764.1 L1321.6,763.4 L1323.0,762.8 L1324.3,762.1 L1325.6,761.4 L1327.0,760.7 L1328.3,760.1 L1329.7,759.4 L1331.0,758.7 L1332.3,758.0 L1333.7,757.3 L1335.0,756.7 L1336.4,756.0 L1337.7,755.3 L1339.0,754.6 L1340.4,753.9 L1341.7,753.3 L1343.0,752.6 L1344.4,751.9 L1345.7,751.2 L1347.1,750.5 L1348.4,749.8 L1349.7,749.2 L1351.1,748.5 L1352.4,747.8 L1353.7,747.1 L1354.8,746.6"/>
<path d="M1370.4,738.5 L1371.1,738.1 L1372.5,737.5 L1373.8,736.8 L1375.1,736.1 L1376.5,735.4 L1377.8,734.7 L1379.1,734.0 L1380.5,733.3 L1381.8,732.6 L1383.2,731.9 L1384.5,731.2 L1385.8,730.5 L1387.2,729.8 L1388.5,729.2 L1389.8,728.5 L1391.2,727.8 L1392.5,727.1 L1393.8,726.4 L1395.2,725.7 L1396.5,725.0 L1397.9,724.3 L1399.2,723.6 L1400.5,722.9 L1401.9,722.2 L1403.2,721.5 L1404.1,721.0"/>
<path d="M222.7,958.6 L224.0,958.6 L225.5,958.6 L227.0,958.6 L228.5,958.7 L230.0,958.7 L231.5,958.7 L233.0,958.8 L234.5,958.8 L236.0,958.9 L237.5,958.9 L239.0,958.9 L240.5,959.0 L242.0,959.0 L243.5,959.1 L245.0,959.1 L246.5,959.2 L248.0,959.2 L249.5,959.2 L251.0,959.3 L252.5,959.3 L254.0,959.4 L255.5,959.4 L257.0,959.5 L258.5,959.5 L260.0,959.6 L261.5,959.6 L263.0,959.7 L264.5,959.7 L266.0,959.8 L267.5,959.9 L269.0,959.9 L270.5,960.0 L272.0,960.0 L273.5,960.1 L275.0,960.1 L276.5,960.2 L278.0,960.2 L279.5,960.3 L281.0,960.4 L282.5,960.4 L284.0,960.5 L285.5,960.5 L287.0,960.6 L288.5,960.6 L290.0,960.7 L291.5,960.8 L293.0,960.8 L294.5,960.9 L295.4,960.9"/>
<path d="M314.2,961.7 L315.5,961.7 L317.0,961.8 L318.5,961.8 L320.0,961.9 L321.5,961.9 L323.0,962.0 L324.5,962.1 L326.0,962.1 L327.5,962.2 L329.0,962.2 L330.5,962.3 L332.0,962.3 L333.5,962.4 L335.0,962.4 L336.5,962.5 L338.0,962.6 L339.5,962.6 L341.0,962.7 L342.5,962.7 L344.0,962.8 L345.5,962.8 L347.0,962.9 L348.5,962.9 L350.0,963.0 L351.5,963.0 L353.0,963.1 L354.5,963.1 L356.0,963.2 L357.5,963.2 L359.0,963.3 L360.5,963.3 L360.6,963.3"/>
<path d="M378.5,963.8 L378.5,963.8 L380.0,963.8 L381.5,963.8 L383.0,963.9 L384.5,963.9 L386.0,963.9 L387.5,964.0 L389.0,964.0 L390.5,964.0 L392.0,964.1 L393.5,964.1 L395.0,964.1 L396.5,964.1 L398.0,964.2 L399.5,964.2 L401.0,964.2 L402.6,964.2 L404.1,964.3 L405.6,964.3 L407.1,964.3 L408.6,964.3 L410.1,964.4 L411.6,964.4 L413.1,964.4 L414.6,964.4 L416.1,964.4 L417.6,964.5 L419.1,964.5 L420.6,964.5 L422.1,964.5 L422.5,964.5"/>
<path d="M437.5,964.6 L438.6,964.6 L440.1,964.6 L441.6,964.6 L443.1,964.7 L444.6,964.7 L446.1,964.7 L447.6,964.7 L449.1,964.7 L450.6,964.7 L452.1,964.7 L453.6,964.7 L455.1,964.7 L456.6,964.7 L458.1,964.7 L459.6,964.7 L461.1,964.7 L462.7,964.7 L464.2,964.7 L465.7,964.7 L467.2,964.7 L468.7,964.7 L470.2,964.7 L471.7,964.7 L473.2,964.7 L474.7,964.7 L476.2,964.7 L477.7,964.7 L479.2,964.7 L480.7,964.7 L480.7,964.7"/>
<path d="M497.2,964.6 L497.2,964.6 L498.7,964.6 L500.2,964.6 L501.7,964.6 L503.2,964.6 L504.7,964.6 L506.2,964.5 L507.7,964.5 L509.2,964.5 L510.8,964.5 L512.3,964.5 L513.8,964.5 L515.3,964.5 L516.8,964.5 L518.3,964.4 L519.8,964.4 L521.3,964.4 L522.8,964.4 L524.3,964.4 L525.8,964.4 L527.3,964.3 L528.8,964.3 L530.3,964.3 L531.8,964.3 L533.3,964.3 L534.8,964.3 L536.3,964.2 L537.8,964.2 L539.3,964.2 L540.8,964.2"/>
<path d="M553.2,964.0 L554.4,964.0 L555.9,963.9 L557.4,963.9 L558.9,963.9 L560.4,963.9 L561.9,963.8 L563.4,963.8 L564.9,963.8 L566.4,963.7 L567.9,963.7 L569.4,963.7 L570.9,963.7 L572.4,963.6 L573.9,963.6 L575.4,963.6 L576.9,963.5 L578.4,963.5 L579.9,963.5 L581.4,963.4 L582.9,963.4 L584.4,963.4 L585.9,963.3 L587.4,963.3 L588.9,963.3 L590.4,963.2 L591.9,963.2 L593.5,963.1 L595.0,963.1 L595.8,963.1"/>
<path d="M609.2,962.7 L610.0,962.7 L611.5,962.6 L613.0,962.6 L614.5,962.6 L616.0,962.5 L617.5,962.5 L619.0,962.4 L620.5,962.4 L622.0,962.3 L623.5,962.3 L625.0,962.2 L626.5,962.2 L628.0,962.1 L629.5,962.1 L631.0,962.0 L632.5,962.0 L634.0,961.9 L635.5,961.8 L637.0,961.8 L638.5,961.7 L640.0,961.7 L641.6,961.6 L643.1,961.6 L644.6,961.5 L646.1,961.4 L647.6,961.4 L649.1,961.3 L650.6,961.3 L652.1,961.2 L653.6,961.1 L654.8,961.1"/>
<path d="M669.2,960.5 L670.1,960.4 L671.6,960.3 L673.1,960.3 L674.6,960.2 L676.1,960.1 L677.6,960.1 L679.1,960.0 L680.6,959.9 L682.1,959.8 L683.6,959.8 L685.1,959.7 L686.6,959.6 L688.1,959.5 L689.6,959.5 L691.1,959.4 L692.6,959.3 L694.1,959.2 L695.6,959.1 L697.1,959.1 L698.6,959.0 L700.1,958.9 L701.6,958.8 L703.1,958.7 L704.6,958.6 L706.1,958.5 L707.6,958.5 L709.1,958.4 L710.6,958.3 L710.8,958.3"/>
<path d="M723.2,957.5 L724.1,957.4 L725.6,957.4 L727.1,957.3 L728.6,957.2 L730.1,957.1 L731.6,957.0 L733.1,956.9 L734.6,956.8 L736.1,956.7 L737.6,956.6 L739.1,956.5 L740.6,956.3 L742.1,956.2 L743.6,956.1 L745.1,956.0 L746.6,955.9 L748.1,955.8 L749.6,955.7 L751.1,955.6 L752.6,955.5 L754.1,955.4 L755.6,955.3 L757.1,955.1 L758.6,955.0 L760.1,954.9 L761.6,954.8 L763.1,954.7 L764.6,954.6 L766.1,954.5 L766.8,954.4"/>
<path d="M781.2,953.2 L782.6,953.1 L784.1,953.0 L785.6,952.8 L787.1,952.7 L788.6,952.6 L790.1,952.5 L791.6,952.3 L793.1,952.2 L794.6,952.1 L796.1,951.9 L797.5,951.8 L799.0,951.7 L800.5,951.5 L802.0,951.4 L803.5,951.2 L805.0,951.1 L806.5,951.0 L808.0,950.8 L809.5,950.7 L811.0,950.5 L812.5,950.4 L814.0,950.2 L815.5,950.1 L817.0,950.0 L818.5,949.8 L820.0,949.7 L821.5,949.5 L823.0,949.4 L824.5,949.2 L826.0,949.1 L827.5,948.9 L827.8,948.9"/>
<path d="M844.2,947.2 L845.4,947.0 L846.9,946.9 L848.4,946.7 L849.9,946.6 L851.4,946.4 L852.9,946.2 L854.3,946.1 L855.8,945.9 L857.3,945.7 L858.8,945.6 L860.3,945.4 L861.8,945.2 L863.3,945.0 L864.8,944.9 L866.3,944.7 L867.8,944.5 L869.3,944.4 L870.8,944.2 L872.3,944.0 L873.7,943.8 L875.2,943.7 L876.7,943.5 L878.2,943.3 L879.7,943.1 L881.2,942.9 L882.7,942.8 L884.2,942.6 L885.7,942.4 L887.2,942.2 L888.5,942.0"/>
<path d="M903.2,940.2 L903.6,940.1 L905.1,939.9 L906.5,939.8 L908.0,939.6 L909.5,939.4 L911.0,939.2 L912.5,939.0 L914.0,938.8 L915.5,938.6 L917.0,938.4 L918.5,938.2 L919.9,938.0 L921.4,937.8 L922.9,937.6 L924.4,937.4 L925.9,937.2 L927.4,937.0 L928.9,936.8 L930.4,936.5 L931.8,936.3 L933.3,936.1 L934.8,935.9 L936.3,935.7 L937.8,935.5 L939.3,935.3 L940.8,935.1 L942.3,934.9 L943.7,934.7 L945.2,934.4 L946.7,934.2 L947.4,934.1"/>
<path d="M963.2,931.8 L964.5,931.6 L966.0,931.4 L967.5,931.1 L969.0,930.9 L970.5,930.7 L972.0,930.4 L973.5,930.2 L974.9,930.0 L976.4,929.8 L977.9,929.5 L979.4,929.3 L980.9,929.1 L982.4,928.8 L983.8,928.6 L985.3,928.3 L986.8,928.1 L988.3,927.9 L989.8,927.6 L991.3,927.4 L992.7,927.2 L994.2,926.9 L995.7,926.7 L997.2,926.4 L998.7,926.2 L1000.2,925.9 L1001.6,925.7 L1003.1,925.5 L1004.3,925.3"/>
<path d="M1023.2,922.1 L1023.9,921.9 L1025.3,921.7 L1026.8,921.4 L1028.3,921.2 L1029.8,920.9 L1031.3,920.6 L1032.7,920.4 L1034.2,920.1 L1035.7,919.9 L1037.2,919.6 L1038.6,919.3 L1040.1,919.1 L1041.6,918.8 L1043.1,918.5 L1044.6,918.3 L1046.0,918.0 L1047.5,917.7 L1049.0,917.5 L1050.5,917.2 L1052.0,916.9 L1053.4,916.7 L1054.9,916.4 L1056.4,916.1 L1057.9,915.8 L1059.3,915.6 L1060.8,915.3 L1062.3,915.0 L1063.8,914.7 L1065.2,914.4 L1066.7,914.2 L1068.2,913.9 L1069.3,913.7"/>
<path d="M1086.2,910.4 L1087.4,910.2 L1088.8,909.9 L1090.3,909.6 L1091.8,909.3 L1093.3,909.0 L1094.7,908.7 L1096.2,908.4 L1097.7,908.1 L1099.2,907.8 L1100.6,907.5 L1102.1,907.2 L1103.6,906.9 L1105.1,906.6 L1106.5,906.3 L1108.0,906.0 L1109.5,905.7 L1110.9,905.4 L1112.4,905.1 L1113.9,904.8 L1115.4,904.5 L1116.8,904.2 L1118.3,903.9 L1119.8,903.6 L1121.2,903.3 L1122.7,903.0 L1124.2,902.7 L1125.7,902.4 L1127.1,902.1 L1128.6,901.7 L1130.1,901.4 L1131.5,901.1 L1131.8,901.1"/>
<path d="M1149.2,897.3 L1150.6,897.0 L1152.1,896.7 L1153.6,896.3 L1155.0,896.0 L1156.5,895.7 L1158.0,895.3 L1159.4,895.0 L1160.9,894.7 L1162.4,894.4 L1163.8,894.0 L1165.3,893.7 L1166.8,893.4 L1168.2,893.0 L1169.7,892.7 L1171.2,892.4 L1172.6,892.0 L1174.1,891.7 L1175.5,891.4 L1177.0,891.0 L1178.5,890.7 L1179.9,890.3 L1181.4,890.0 L1182.9,889.7 L1184.3,889.3 L1185.8,889.0 L1187.3,888.6 L1188.7,888.3 L1190.2,888.0 L1191.7,887.6 L1193.1,887.3 L1194.6,886.9 L1196.0,886.6 L1197.4,886.2"/>
<path d="M1216.1,881.7 L1216.5,881.6 L1218.0,881.3 L1219.4,880.9 L1220.9,880.5 L1222.3,880.2 L1223.8,879.8 L1225.3,879.5 L1226.7,879.1 L1228.2,878.7 L1229.6,878.4 L1231.1,878.0 L1232.5,877.6 L1234.0,877.3 L1235.5,876.9 L1236.9,876.5 L1238.4,876.2 L1239.8,875.8 L1241.3,875.4 L1242.7,875.1 L1244.2,874.7 L1245.7,874.3 L1247.1,873.9 L1248.6,873.6 L1250.0,873.2 L1251.5,872.8 L1252.9,872.4 L1254.4,872.1 L1255.9,871.7 L1257.3,871.3 L1258.8,870.9 L1260.2,870.5 L1260.8,870.4"/>
<path d="M1279.2,865.5 L1280.6,865.1 L1282.0,864.7 L1283.5,864.3 L1284.9,863.9 L1286.4,863.5 L1287.8,863.2 L1289.3,862.8 L1290.7,862.4 L1292.2,862.0 L1293.6,861.6 L1295.1,861.2 L1296.5,860.8 L1298.0,860.4 L1299.4,860.0 L1300.9,859.6 L1302.3,859.2 L1303.8,858.8 L1305.2,858.3 L1306.7,857.9 L1308.1,857.5 L1309.6,857.1 L1311.0,856.7 L1312.5,856.3 L1313.9,855.9 L1315.4,855.5 L1315.8,855.4"/>
</g>
<g stroke="#000" stroke-width="4.3" stroke-linecap="round">
<path d="M1421.5,713.1 L1487.6,713.1"/>
<path d="M1335.2,865.3 L1408.4,865.3"/>
</g>
<g stroke="#000" stroke-width="4.0" stroke-linecap="round">
<path d="M536.3,622.3 L559.8,622.3 M536.3,631.8 L559.8,631.8"/>
<path d="M966.4,624.3 L989.3,624.3 M966.4,633.1 L989.3,633.1"/>
<path d="M1329.0,552.3 L1352.1,552.3 M1329.0,561.9 L1352.1,561.9"/>
<path d="M1527.0,712.5 L1550.2,712.5 M1527.0,721.8 L1550.2,721.8"/>
<path d="M1445.5,862.3 L1467.9,862.3 M1445.5,871.6 L1467.9,871.6"/>
</g>
<g fill="#000" stroke="#000" stroke-width="0.60">
<g stroke="none"><polygon points="469.32,608.14 474.66,608.14 464.69,646.66 459.35,646.66"/><polygon points="463.42,607.28 464.26,606.00 480.00,606.00 479.58,609.64 463.98,609.77 463.42,608.57"/><polygon points="452.46,645.16 467.92,645.03 468.06,646.23 467.36,648.80 452.46,648.80 451.90,647.09"/></g>
<text stroke-width="0.25" transform="translate(478.80 662.80) scale(0.9969 1)" font-family="Liberation Sans" font-style="italic" font-size="40.29">B</text>
<g stroke="none"><polygon points="900.40,607.87 905.70,607.87 895.79,646.93 890.49,646.93"/><polygon points="894.54,607.00 895.38,605.70 911.00,605.70 910.58,609.39 895.10,609.52 894.54,608.30"/><polygon points="883.66,645.41 899.00,645.28 899.14,646.50 898.45,649.10 883.66,649.10 883.10,647.36"/></g>
<text stroke-width="0.25" transform="translate(908.21 663.00) scale(1.0137 1)" font-family="Liberation Sans" font-style="italic" font-size="39.13">B</text>
<g stroke="none"><polygon points="1262.34,538.19 1267.62,538.19 1257.75,575.81 1252.47,575.81"/><polygon points="1256.50,537.35 1257.33,536.10 1272.90,536.10 1272.48,539.65 1257.05,539.78 1256.50,538.61"/><polygon points="1245.66,574.35 1260.95,574.22 1261.09,575.39 1260.39,577.90 1245.66,577.90 1245.10,576.23"/></g>
<text stroke-width="0.25" transform="translate(1270.11 590.70) scale(0.9851 1)" font-family="Liberation Sans" font-style="italic" font-size="40.43">B</text>
<g stroke="none"><polygon points="1441.99,646.39 1447.45,646.39 1437.26,685.81 1431.81,685.81"/><polygon points="1435.97,645.51 1436.83,644.20 1452.90,644.20 1452.47,647.92 1436.54,648.05 1435.97,646.83"/><polygon points="1424.77,684.28 1440.56,684.15 1440.70,685.37 1439.99,688.00 1424.77,688.00 1424.20,686.25"/></g>
<text stroke-width="0.25" transform="translate(1451.86 701.58) scale(0.8831 1)" font-family="Liberation Sans" font-style="italic" font-size="42.25">C</text>
<g stroke="none"><polygon points="1443.14,730.42 1447.47,730.42 1439.37,766.78 1435.04,766.78"/><polygon points="1438.35,729.61 1439.03,728.40 1451.80,728.40 1451.46,731.83 1438.80,731.96 1438.35,730.82"/><polygon points="1429.46,765.37 1442.00,765.24 1442.11,766.38 1441.54,768.80 1429.46,768.80 1429.00,767.18"/></g>
<text stroke-width="0.25" transform="translate(1452.78 784.00) scale(0.9986 1)" font-family="Liberation Sans" font-style="italic" font-size="40.72">B</text>
<g stroke="none"><polygon points="1361.16,800.47 1366.08,800.47 1356.88,839.53 1351.96,839.53"/><polygon points="1355.72,799.60 1356.50,798.30 1371.00,798.30 1370.61,801.99 1356.24,802.12 1355.72,800.90"/><polygon points="1345.62,838.01 1359.86,837.88 1359.99,839.10 1359.35,841.70 1345.62,841.70 1345.10,839.96"/></g>
<text stroke-width="0.25" transform="translate(1369.55 852.69) scale(0.9204 1)" font-family="Liberation Sans" font-style="italic" font-size="40.70">C</text>
<g stroke="none"><polygon points="1361.16,880.38 1366.08,880.38 1356.88,919.53 1351.96,919.53"/><polygon points="1355.72,879.50 1356.50,878.20 1371.00,878.20 1370.61,881.90 1356.24,882.03 1355.72,880.81"/><polygon points="1345.62,918.00 1359.86,917.87 1359.99,919.09 1359.35,921.70 1345.62,921.70 1345.10,919.96"/></g>
<text stroke-width="0.25" transform="translate(1371.42 935.40) scale(0.9905 1)" font-family="Liberation Sans" font-style="italic" font-size="39.71">B</text>
<g stroke="none"><polygon points="823.68,1116.27 829.04,1116.27 819.03,1155.42 813.67,1155.42"/><polygon points="817.76,1115.40 818.61,1114.10 834.40,1114.10 833.98,1117.80 818.33,1117.93 817.76,1116.71"/><polygon points="806.76,1153.90 822.27,1153.77 822.41,1154.99 821.71,1157.60 806.76,1157.60 806.20,1155.86"/></g>
<text stroke-width="0.25" transform="translate(831.31 1170.57) scale(0.9369 1)" font-family="Liberation Sans" font-style="italic" font-size="42.54">C</text>
<text stroke-width="0.20" transform="translate(890.25 1151.74) scale(0.7885 1)" font-family="Liberation Sans" font-style="normal" font-size="51.70">(</text>
<text stroke-width="0.20" transform="translate(1008.32 1150.21) scale(0.7201 1)" font-family="Liberation Sans" font-style="normal" font-size="52.34">)</text>
<g font-family="Liberation Sans" stroke="#000" stroke-width="0.60"><rect x="129.20" y="52.40" width="6.00" height="40.50"/><path d="M131.60,54.60 L124.20,61.80" stroke="#000" stroke-width="5.2" stroke-linecap="round" fill="none"/><rect x="151.60" y="85.30" width="6.6" height="7.6" rx="2.6" stroke="none"/><text transform="translate(164.61 92.31) scale(1.0632 1)" font-size="58.59">0</text></g>
<g font-family="Liberation Sans" stroke="#000" stroke-width="0.60"><text transform="translate(116.56 185.03) scale(1.1200 1)" font-size="57.04">0</text><rect x="154.25" y="178.00" width="6.6" height="7.6" rx="2.6" stroke="none"/><text transform="translate(165.07 185.03) scale(1.0976 1)" font-size="57.04">9</text></g>
<g font-family="Liberation Sans" stroke="#000" stroke-width="0.60"><text transform="translate(115.43 283.00) scale(1.1111 1)" font-size="60.00">0</text><rect x="152.65" y="276.00" width="6.6" height="7.6" rx="2.6" stroke="none"/><text transform="translate(165.75 283.00) scale(1.0213 1)" font-size="60.00">8</text></g>
<g font-family="Liberation Sans" stroke="#000" stroke-width="0.60"><text transform="translate(118.90 371.93) scale(1.0519 1)" font-size="57.04">0</text><rect x="156.40" y="364.90" width="6.6" height="7.6" rx="2.6" stroke="none"/><text transform="translate(170.84 373.07) scale(0.9337 1)" font-size="57.04">7</text></g>
<g font-family="Liberation Sans" stroke="#000" stroke-width="0.60"><text transform="translate(118.90 464.61) scale(1.0240 1)" font-size="58.59">0</text><rect x="157.40" y="457.60" width="6.6" height="7.6" rx="2.6" stroke="none"/><text transform="translate(169.62 464.61) scale(0.9832 1)" font-size="58.59">6</text></g>
<g font-family="Liberation Sans" stroke="#000" stroke-width="0.60"><text transform="translate(117.80 557.30) scale(1.0000 1)" font-size="60.00">0</text><rect x="155.30" y="550.30" width="6.6" height="7.6" rx="2.6" stroke="none"/><text transform="translate(169.05 557.30) scale(0.9787 1)" font-size="60.00">5</text></g>
<g font-family="Liberation Sans" stroke="#000" stroke-width="0.60"><text transform="translate(116.63 651.21) scale(1.0987 1)" font-size="58.59">0</text><rect x="154.75" y="644.20" width="6.6" height="7.6" rx="2.6" stroke="none"/><text transform="translate(168.13 652.39) scale(0.9973 1)" font-size="58.59">4</text></g>
<g font-family="Liberation Sans" stroke="#000" stroke-width="0.60"><text transform="translate(118.72 745.01) scale(1.0987 1)" font-size="58.59">0</text><rect x="156.40" y="738.00" width="6.6" height="7.6" rx="2.6" stroke="none"/><text transform="translate(169.04 745.01) scale(1.0059 1)" font-size="58.59">3</text></g>
<g font-family="Liberation Sans" stroke="#000" stroke-width="0.60"><text transform="translate(117.71 837.71) scale(1.0632 1)" font-size="58.59">0</text><text transform="translate(169.61 838.30) scale(0.9869 1)" font-size="58.59">2</text></g>
<g font-family="Liberation Sans" stroke="#000" stroke-width="0.60"><text transform="translate(121.14 932.81) scale(1.0414 1)" font-size="59.01">0</text><rect x="159.00" y="925.80" width="6.6" height="7.6" rx="2.6" stroke="none"/><rect x="187.10" y="892.60" width="6.00" height="40.80"/><path d="M189.50,894.80 L181.60,902.00" stroke="#000" stroke-width="5.2" stroke-linecap="round" fill="none"/></g>
<g font-family="Liberation Sans" stroke="#000" stroke-width="0.60"><text transform="translate(166.98 1012.80) scale(1.0486 1)" font-size="60.00">0</text></g>
<g font-family="Liberation Sans" stroke="#000" stroke-width="0.60"><rect x="217.00" y="1026.00" width="6.00" height="40.00"/><path d="M219.40,1028.20 L211.80,1035.40" stroke="#000" stroke-width="5.2" stroke-linecap="round" fill="none"/></g>
<g font-family="Liberation Sans" stroke="#000" stroke-width="0.60"><rect x="662.00" y="1022.00" width="6.00" height="41.80"/><path d="M664.40,1024.20 L656.70,1031.40" stroke="#000" stroke-width="5.2" stroke-linecap="round" fill="none"/><text transform="translate(680.55 1063.20) scale(0.9723 1)" font-size="60.42">0</text></g>
<g font-family="Liberation Sans" stroke="#000" stroke-width="0.60"><rect x="1108.20" y="1019.20" width="6.00" height="41.70"/><path d="M1110.60,1021.40 L1102.60,1028.60" stroke="#000" stroke-width="5.2" stroke-linecap="round" fill="none"/><text transform="translate(1126.17 1060.30) scale(1.0472 1)" font-size="60.28">0</text><text transform="translate(1159.49 1060.30) scale(0.9988 1)" font-size="60.28">0</text></g>
<g font-family="Liberation Sans" stroke="#000" stroke-width="0.60"><rect x="1539.00" y="1018.40" width="6.00" height="41.10"/><path d="M1541.40,1020.60 L1533.90,1027.80" stroke="#000" stroke-width="5.2" stroke-linecap="round" fill="none"/><text transform="translate(1557.58 1058.91) scale(1.0165 1)" font-size="59.44">0</text><text transform="translate(1589.58 1058.91) scale(1.0165 1)" font-size="59.44">0</text><text transform="translate(1623.48 1058.91) scale(1.0165 1)" font-size="59.44">0</text></g>
<g font-family="Liberation Sans" stroke="#000" stroke-width="0.60"><text transform="translate(364.95 163.20) scale(0.9383 1)" font-size="60.70">2</text><text transform="translate(397.69 163.20) scale(0.9296 1)" font-size="60.70">N</text><text transform="translate(441.74 163.20) scale(0.9418 1)" font-size="60.70">2</text><text transform="translate(474.74 163.20) scale(0.9418 1)" font-size="60.70">2</text><rect x="522.80" y="121.20" width="6.00" height="42.00"/><path d="M525.20,123.40 L516.90,130.60" stroke="#000" stroke-width="5.2" stroke-linecap="round" fill="none"/><text transform="translate(540.59 162.59) scale(0.9920 1)" font-size="60.70">9</text></g>
<g font-family="Liberation Sans" stroke="#000" stroke-width="0.60"><text transform="translate(581.58 648.42) scale(1.0361 1)" font-size="58.31">0</text><rect x="648.60" y="608.70" width="6.00" height="40.30"/><path d="M651.00,610.90 L642.90,618.10" stroke="#000" stroke-width="5.2" stroke-linecap="round" fill="none"/><text transform="translate(666.03 649.00) scale(0.9726 0.9147)" font-size="58.31">m</text><text transform="translate(718.40 649.00) scale(0.9770 1)" font-size="58.31">A</text></g>
<g font-family="Liberation Sans" stroke="#000" stroke-width="0.60"><rect x="1028.00" y="607.60" width="6.00" height="40.70"/><path d="M1030.40,609.80 L1022.90,617.00" stroke="#000" stroke-width="5.2" stroke-linecap="round" fill="none"/><text transform="translate(1045.33 648.30) scale(1.0361 0.9185)" font-size="58.87">m</text><text transform="translate(1098.00 648.30) scale(0.9702 1)" font-size="58.87">A</text></g>
<g font-family="Liberation Sans" stroke="#000" stroke-width="0.60"><rect x="1210.20" y="604.60" width="6.00" height="40.40"/><path d="M1212.60,606.80 L1204.60,614.00" stroke="#000" stroke-width="5.2" stroke-linecap="round" fill="none"/><text transform="translate(1227.50 644.42) scale(1.0693 1)" font-size="58.45">0</text><text transform="translate(1276.58 645.00) scale(1.0070 0.9156)" font-size="58.45">m</text><text transform="translate(1330.80 645.00) scale(0.9954 1)" font-size="58.45">A</text></g>
<g font-family="Liberation Sans" stroke="#000" stroke-width="0.60"><text transform="translate(1575.30 737.60) scale(0.9836 1)" font-size="59.01">2</text><text transform="translate(1609.37 737.01) scale(0.9879 1)" font-size="59.01">5</text></g>
<g font-family="Liberation Sans" stroke="#000" stroke-width="0.60"><rect x="1506.70" y="846.60" width="6.00" height="40.80"/><path d="M1509.10,848.80 L1501.90,856.00" stroke="#000" stroke-width="5.2" stroke-linecap="round" fill="none"/><text transform="translate(1523.93 886.81) scale(1.0485 1)" font-size="59.01">0</text></g>
<g font-family="Liberation Sans" stroke="#000" stroke-width="0.60"><text transform="translate(909.79 1155.50) scale(0.9993 0.9078)" font-size="57.32">m</text><text transform="translate(960.90 1155.50) scale(1.0044 1)" font-size="57.32">A</text></g>
<g font-family="Liberation Sans" stroke="#000" stroke-width="0.15"><text transform="translate(555.26 430.50) scale(0.8800 1)" font-size="54.50">a</text><text transform="translate(582.58 430.50) scale(1.0198 1)" font-size="54.50">c</text><text transform="translate(614.08 430.50) scale(1.1800 1)" font-size="54.50">t</text><text transform="translate(635.03 430.50) scale(1.1800 1)" font-size="54.50">i</text><text transform="translate(650.58 430.50) scale(0.9518 1)" font-size="54.50">v</text><text transform="translate(679.05 430.50) scale(0.8940 1)" font-size="54.50">e</text></g>
<g font-family="Liberation Sans" stroke="#000" stroke-width="0.15"><text transform="translate(911.62 427.60) scale(1.1359 1)" font-size="53.80">l</text><text transform="translate(927.50 427.60) scale(1.1152 1)" font-size="53.80">ı</text><text transform="translate(943.57 427.60) scale(1.1241 1)" font-size="53.80">n</text><text transform="translate(977.71 427.60) scale(0.9254 1)" font-size="53.80">e</text><text transform="translate(1002.85 427.60) scale(0.8800 1)" font-size="53.80">a</text><text transform="translate(1033.07 427.60) scale(1.1800 1)" font-size="53.80">r</text></g>
<g font-family="Liberation Sans" stroke="#000" stroke-width="0.15"><text transform="translate(1285.01 426.00) scale(1.1800 1)" font-size="53.20">r</text><text transform="translate(1306.97 426.00) scale(0.9558 1)" font-size="53.20">e</text><text transform="translate(1336.42 426.00) scale(0.9315 1)" font-size="53.20">g</text><text transform="translate(1364.04 426.00) scale(1.1800 1)" font-size="53.20">i</text><text transform="translate(1379.38 426.00) scale(1.1358 1)" font-size="53.20">o</text><text transform="translate(1412.72 426.00) scale(1.1233 1)" font-size="53.20">n</text></g>
<text stroke-width="0.00" transform="translate(92.80 645.53) rotate(-90) scale(0.9519 1)" font-family="Liberation Sans" font-style="italic" font-size="57.54">V</text>
<text stroke-width="0.10" transform="translate(106.79 606.03) rotate(-90)" font-family="Liberation Sans" font-style="italic" font-size="40.56" letter-spacing="-0.75" xml:space="preserve">CE</text>
<text stroke-width="0.20" transform="translate(89.00 519.18) rotate(-90) scale(0.7334 1)" font-family="Liberation Sans" font-style="normal" font-size="51.91">(</text>
<text stroke-width="0.00" transform="translate(93.00 497.34) rotate(-90) scale(0.9189 1)" font-family="Liberation Sans" font-style="normal" font-size="58.26">V</text>
<text stroke-width="0.20" transform="translate(89.00 451.25) rotate(-90) scale(0.6668 1)" font-family="Liberation Sans" font-style="normal" font-size="51.91">)</text>
</g>
</svg></body></html>
